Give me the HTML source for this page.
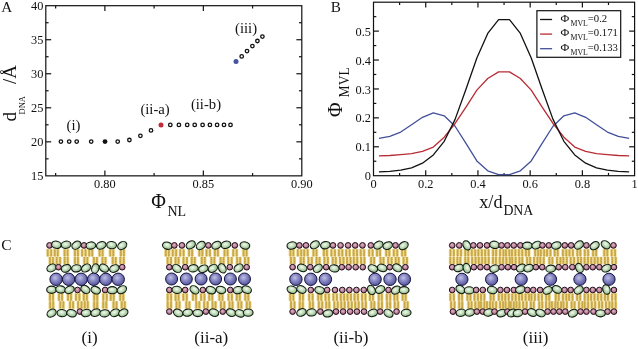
<!DOCTYPE html>
<html><head><meta charset="utf-8"><title>Figure</title>
<style>html,body{margin:0;padding:0;background:#fff;}svg{display:block;will-change:transform;opacity:0.999}text{font-family:"Liberation Serif",serif;}</style>
</head><body>
<svg width="638" height="349" viewBox="0 0 638 349">
<rect width="638" height="349" fill="#fff"/>
<rect x="45.80" y="5.70" width="256.00" height="170.15" fill="none" stroke="#111" stroke-width="1.2"/>
<line x1="55.65" y1="175.85" x2="55.65" y2="173.05" stroke="#111" stroke-width="1.2"/>
<line x1="55.65" y1="5.70" x2="55.65" y2="8.50" stroke="#111" stroke-width="1.2"/>
<line x1="104.88" y1="175.85" x2="104.88" y2="170.45" stroke="#111" stroke-width="1.2"/>
<line x1="104.88" y1="5.70" x2="104.88" y2="11.10" stroke="#111" stroke-width="1.2"/>
<line x1="154.11" y1="175.85" x2="154.11" y2="173.05" stroke="#111" stroke-width="1.2"/>
<line x1="154.11" y1="5.70" x2="154.11" y2="8.50" stroke="#111" stroke-width="1.2"/>
<line x1="203.34" y1="175.85" x2="203.34" y2="170.45" stroke="#111" stroke-width="1.2"/>
<line x1="203.34" y1="5.70" x2="203.34" y2="11.10" stroke="#111" stroke-width="1.2"/>
<line x1="252.57" y1="175.85" x2="252.57" y2="173.05" stroke="#111" stroke-width="1.2"/>
<line x1="252.57" y1="5.70" x2="252.57" y2="8.50" stroke="#111" stroke-width="1.2"/>
<line x1="45.80" y1="158.83" x2="48.60" y2="158.83" stroke="#111" stroke-width="1.2"/>
<line x1="301.80" y1="158.83" x2="299.00" y2="158.83" stroke="#111" stroke-width="1.2"/>
<line x1="45.80" y1="141.82" x2="51.20" y2="141.82" stroke="#111" stroke-width="1.2"/>
<line x1="301.80" y1="141.82" x2="296.40" y2="141.82" stroke="#111" stroke-width="1.2"/>
<line x1="45.80" y1="124.80" x2="48.60" y2="124.80" stroke="#111" stroke-width="1.2"/>
<line x1="301.80" y1="124.80" x2="299.00" y2="124.80" stroke="#111" stroke-width="1.2"/>
<line x1="45.80" y1="107.79" x2="51.20" y2="107.79" stroke="#111" stroke-width="1.2"/>
<line x1="301.80" y1="107.79" x2="296.40" y2="107.79" stroke="#111" stroke-width="1.2"/>
<line x1="45.80" y1="90.77" x2="48.60" y2="90.77" stroke="#111" stroke-width="1.2"/>
<line x1="301.80" y1="90.77" x2="299.00" y2="90.77" stroke="#111" stroke-width="1.2"/>
<line x1="45.80" y1="73.76" x2="51.20" y2="73.76" stroke="#111" stroke-width="1.2"/>
<line x1="301.80" y1="73.76" x2="296.40" y2="73.76" stroke="#111" stroke-width="1.2"/>
<line x1="45.80" y1="56.74" x2="48.60" y2="56.74" stroke="#111" stroke-width="1.2"/>
<line x1="301.80" y1="56.74" x2="299.00" y2="56.74" stroke="#111" stroke-width="1.2"/>
<line x1="45.80" y1="39.73" x2="51.20" y2="39.73" stroke="#111" stroke-width="1.2"/>
<line x1="301.80" y1="39.73" x2="296.40" y2="39.73" stroke="#111" stroke-width="1.2"/>
<line x1="45.80" y1="22.72" x2="48.60" y2="22.72" stroke="#111" stroke-width="1.2"/>
<line x1="301.80" y1="22.72" x2="299.00" y2="22.72" stroke="#111" stroke-width="1.2"/>
<text transform="translate(43.40,180.45) scale(0.93,1)" font-family="Liberation Serif, serif" font-size="13.3" text-anchor="end" fill="#111">15</text>
<text transform="translate(43.40,146.42) scale(0.93,1)" font-family="Liberation Serif, serif" font-size="13.3" text-anchor="end" fill="#111">20</text>
<text transform="translate(43.40,112.39) scale(0.93,1)" font-family="Liberation Serif, serif" font-size="13.3" text-anchor="end" fill="#111">25</text>
<text transform="translate(43.40,78.36) scale(0.93,1)" font-family="Liberation Serif, serif" font-size="13.3" text-anchor="end" fill="#111">30</text>
<text transform="translate(43.40,44.33) scale(0.93,1)" font-family="Liberation Serif, serif" font-size="13.3" text-anchor="end" fill="#111">35</text>
<text transform="translate(43.40,10.30) scale(0.93,1)" font-family="Liberation Serif, serif" font-size="13.3" text-anchor="end" fill="#111">40</text>
<text transform="translate(104.88,188.00) scale(0.93,1)" font-family="Liberation Serif, serif" font-size="13.3" text-anchor="middle" fill="#111">0.80</text>
<text transform="translate(203.34,188.00) scale(0.93,1)" font-family="Liberation Serif, serif" font-size="13.3" text-anchor="middle" fill="#111">0.85</text>
<text transform="translate(301.80,188.00) scale(0.93,1)" font-family="Liberation Serif, serif" font-size="13.3" text-anchor="middle" fill="#111">0.90</text>
<circle cx="60.9" cy="141.6" r="1.75" fill="#fff" stroke="#111" stroke-width="1.3"/>
<circle cx="69.2" cy="141.6" r="1.75" fill="#fff" stroke="#111" stroke-width="1.3"/>
<circle cx="76.7" cy="141.6" r="1.75" fill="#fff" stroke="#111" stroke-width="1.3"/>
<circle cx="91.2" cy="141.6" r="1.75" fill="#fff" stroke="#111" stroke-width="1.3"/>
<circle cx="117.7" cy="141.6" r="1.75" fill="#fff" stroke="#111" stroke-width="1.3"/>
<circle cx="129.4" cy="140.0" r="1.75" fill="#fff" stroke="#111" stroke-width="1.3"/>
<circle cx="140.4" cy="135.8" r="1.75" fill="#fff" stroke="#111" stroke-width="1.3"/>
<circle cx="151" cy="130.4" r="1.75" fill="#fff" stroke="#111" stroke-width="1.3"/>
<circle cx="170.3" cy="124.9" r="1.75" fill="#fff" stroke="#111" stroke-width="1.3"/>
<circle cx="178.9" cy="124.9" r="1.75" fill="#fff" stroke="#111" stroke-width="1.3"/>
<circle cx="187.2" cy="124.9" r="1.75" fill="#fff" stroke="#111" stroke-width="1.3"/>
<circle cx="194.7" cy="124.9" r="1.75" fill="#fff" stroke="#111" stroke-width="1.3"/>
<circle cx="202.6" cy="124.9" r="1.75" fill="#fff" stroke="#111" stroke-width="1.3"/>
<circle cx="209.9" cy="124.9" r="1.75" fill="#fff" stroke="#111" stroke-width="1.3"/>
<circle cx="217.1" cy="124.9" r="1.75" fill="#fff" stroke="#111" stroke-width="1.3"/>
<circle cx="224" cy="124.9" r="1.75" fill="#fff" stroke="#111" stroke-width="1.3"/>
<circle cx="230.5" cy="124.9" r="1.75" fill="#fff" stroke="#111" stroke-width="1.3"/>
<circle cx="241.7" cy="56.4" r="1.75" fill="#fff" stroke="#111" stroke-width="1.3"/>
<circle cx="247" cy="51.1" r="1.75" fill="#fff" stroke="#111" stroke-width="1.3"/>
<circle cx="252.4" cy="46.1" r="1.75" fill="#fff" stroke="#111" stroke-width="1.3"/>
<circle cx="257.4" cy="41.0" r="1.75" fill="#fff" stroke="#111" stroke-width="1.3"/>
<circle cx="262.4" cy="36.6" r="1.75" fill="#fff" stroke="#111" stroke-width="1.3"/>
<circle cx="105" cy="141.6" r="2.4" fill="#111"/>
<circle cx="161" cy="125.0" r="2.5" fill="#c22c3a"/>
<circle cx="236" cy="61.5" r="2.5" fill="#46549e"/>
<text x="66.5" y="129.6" font-family="Liberation Serif, serif" font-size="14.7" fill="#111">(i)</text>
<text x="140.4" y="113.7" font-family="Liberation Serif, serif" font-size="14.7" fill="#111">(ii-a)</text>
<text x="190.9" y="109" font-family="Liberation Serif, serif" font-size="14.7" fill="#111">(ii-b)</text>
<text x="235" y="32.8" font-family="Liberation Serif, serif" font-size="14.7" fill="#111">(iii)</text>
<text x="1.3" y="11.9" font-family="Liberation Serif, serif" font-size="15.2" fill="#111">A</text>
<text x="330.8" y="11.9" font-family="Liberation Serif, serif" font-size="15.2" fill="#111">B</text>
<text x="1.3" y="250.2" font-family="Liberation Serif, serif" font-size="15.5" fill="#111">C</text>
<g transform="translate(16.1,121.6) rotate(-90)"><text x="0" y="0" font-family="Liberation Serif, serif" font-size="19" fill="#111">d</text><text x="7.2" y="9" font-family="Liberation Serif, serif" font-size="8.5" fill="#111">DNA</text><text x="37.5" y="0" font-family="Liberation Serif, serif" font-size="19" fill="#111">/Å</text></g>
<text x="151.3" y="208" font-family="Liberation Serif, serif" font-size="20" fill="#111">Φ</text>
<text x="167.4" y="216.1" font-family="Liberation Serif, serif" font-size="14" fill="#111">NL</text>
<rect x="373.50" y="2.20" width="261.10" height="173.50" fill="none" stroke="#111" stroke-width="1.2"/>
<line x1="399.61" y1="175.70" x2="399.61" y2="172.90" stroke="#111" stroke-width="1.2"/>
<line x1="399.61" y1="2.20" x2="399.61" y2="5.00" stroke="#111" stroke-width="1.2"/>
<line x1="425.72" y1="175.70" x2="425.72" y2="170.30" stroke="#111" stroke-width="1.2"/>
<line x1="425.72" y1="2.20" x2="425.72" y2="7.60" stroke="#111" stroke-width="1.2"/>
<line x1="451.83" y1="175.70" x2="451.83" y2="172.90" stroke="#111" stroke-width="1.2"/>
<line x1="451.83" y1="2.20" x2="451.83" y2="5.00" stroke="#111" stroke-width="1.2"/>
<line x1="477.94" y1="175.70" x2="477.94" y2="170.30" stroke="#111" stroke-width="1.2"/>
<line x1="477.94" y1="2.20" x2="477.94" y2="7.60" stroke="#111" stroke-width="1.2"/>
<line x1="504.05" y1="175.70" x2="504.05" y2="172.90" stroke="#111" stroke-width="1.2"/>
<line x1="504.05" y1="2.20" x2="504.05" y2="5.00" stroke="#111" stroke-width="1.2"/>
<line x1="530.16" y1="175.70" x2="530.16" y2="170.30" stroke="#111" stroke-width="1.2"/>
<line x1="530.16" y1="2.20" x2="530.16" y2="7.60" stroke="#111" stroke-width="1.2"/>
<line x1="556.27" y1="175.70" x2="556.27" y2="172.90" stroke="#111" stroke-width="1.2"/>
<line x1="556.27" y1="2.20" x2="556.27" y2="5.00" stroke="#111" stroke-width="1.2"/>
<line x1="582.38" y1="175.70" x2="582.38" y2="170.30" stroke="#111" stroke-width="1.2"/>
<line x1="582.38" y1="2.20" x2="582.38" y2="7.60" stroke="#111" stroke-width="1.2"/>
<line x1="608.49" y1="175.70" x2="608.49" y2="172.90" stroke="#111" stroke-width="1.2"/>
<line x1="608.49" y1="2.20" x2="608.49" y2="5.00" stroke="#111" stroke-width="1.2"/>
<line x1="373.50" y1="161.24" x2="376.30" y2="161.24" stroke="#111" stroke-width="1.2"/>
<line x1="634.60" y1="161.24" x2="631.80" y2="161.24" stroke="#111" stroke-width="1.2"/>
<line x1="373.50" y1="146.78" x2="378.90" y2="146.78" stroke="#111" stroke-width="1.2"/>
<line x1="634.60" y1="146.78" x2="629.20" y2="146.78" stroke="#111" stroke-width="1.2"/>
<line x1="373.50" y1="132.32" x2="376.30" y2="132.32" stroke="#111" stroke-width="1.2"/>
<line x1="634.60" y1="132.32" x2="631.80" y2="132.32" stroke="#111" stroke-width="1.2"/>
<line x1="373.50" y1="117.87" x2="378.90" y2="117.87" stroke="#111" stroke-width="1.2"/>
<line x1="634.60" y1="117.87" x2="629.20" y2="117.87" stroke="#111" stroke-width="1.2"/>
<line x1="373.50" y1="103.41" x2="376.30" y2="103.41" stroke="#111" stroke-width="1.2"/>
<line x1="634.60" y1="103.41" x2="631.80" y2="103.41" stroke="#111" stroke-width="1.2"/>
<line x1="373.50" y1="88.95" x2="378.90" y2="88.95" stroke="#111" stroke-width="1.2"/>
<line x1="634.60" y1="88.95" x2="629.20" y2="88.95" stroke="#111" stroke-width="1.2"/>
<line x1="373.50" y1="74.49" x2="376.30" y2="74.49" stroke="#111" stroke-width="1.2"/>
<line x1="634.60" y1="74.49" x2="631.80" y2="74.49" stroke="#111" stroke-width="1.2"/>
<line x1="373.50" y1="60.03" x2="378.90" y2="60.03" stroke="#111" stroke-width="1.2"/>
<line x1="634.60" y1="60.03" x2="629.20" y2="60.03" stroke="#111" stroke-width="1.2"/>
<line x1="373.50" y1="45.57" x2="376.30" y2="45.57" stroke="#111" stroke-width="1.2"/>
<line x1="634.60" y1="45.57" x2="631.80" y2="45.57" stroke="#111" stroke-width="1.2"/>
<line x1="373.50" y1="31.12" x2="378.90" y2="31.12" stroke="#111" stroke-width="1.2"/>
<line x1="634.60" y1="31.12" x2="629.20" y2="31.12" stroke="#111" stroke-width="1.2"/>
<line x1="373.50" y1="16.66" x2="376.30" y2="16.66" stroke="#111" stroke-width="1.2"/>
<line x1="634.60" y1="16.66" x2="631.80" y2="16.66" stroke="#111" stroke-width="1.2"/>
<text transform="translate(371.00,180.30) scale(0.93,1)" font-family="Liberation Serif, serif" font-size="13.3" text-anchor="end" fill="#111">0</text>
<text transform="translate(371.00,151.38) scale(0.93,1)" font-family="Liberation Serif, serif" font-size="13.3" text-anchor="end" fill="#111">0.1</text>
<text transform="translate(371.00,122.47) scale(0.93,1)" font-family="Liberation Serif, serif" font-size="13.3" text-anchor="end" fill="#111">0.2</text>
<text transform="translate(371.00,93.55) scale(0.93,1)" font-family="Liberation Serif, serif" font-size="13.3" text-anchor="end" fill="#111">0.3</text>
<text transform="translate(371.00,64.63) scale(0.93,1)" font-family="Liberation Serif, serif" font-size="13.3" text-anchor="end" fill="#111">0.4</text>
<text transform="translate(371.00,35.72) scale(0.93,1)" font-family="Liberation Serif, serif" font-size="13.3" text-anchor="end" fill="#111">0.5</text>
<text transform="translate(373.50,188.00) scale(0.93,1)" font-family="Liberation Serif, serif" font-size="13.3" text-anchor="middle" fill="#111">0</text>
<text transform="translate(425.72,188.00) scale(0.93,1)" font-family="Liberation Serif, serif" font-size="13.3" text-anchor="middle" fill="#111">0.2</text>
<text transform="translate(477.94,188.00) scale(0.93,1)" font-family="Liberation Serif, serif" font-size="13.3" text-anchor="middle" fill="#111">0.4</text>
<text transform="translate(530.16,188.00) scale(0.93,1)" font-family="Liberation Serif, serif" font-size="13.3" text-anchor="middle" fill="#111">0.6</text>
<text transform="translate(582.38,188.00) scale(0.93,1)" font-family="Liberation Serif, serif" font-size="13.3" text-anchor="middle" fill="#111">0.8</text>
<text transform="translate(634.60,188.00) scale(0.93,1)" font-family="Liberation Serif, serif" font-size="13.3" text-anchor="middle" fill="#111">1</text>
<polyline points="378.94,138.28 389.82,136.37 400.70,132.04 411.58,124.81 422.46,117.29 433.34,112.81 444.21,115.84 455.09,126.25 465.97,143.46 476.85,160.95 487.73,170.84 498.61,174.66 509.49,174.66 520.37,170.84 531.25,160.95 542.13,143.46 553.01,126.25 563.89,115.84 574.76,112.81 585.64,117.29 596.52,124.81 607.40,132.04 618.28,136.37 629.16,138.28" fill="none" stroke="#42509a" stroke-width="1.3" stroke-linejoin="round"/>
<polyline points="378.94,155.78 389.82,155.52 400.70,154.68 411.58,153.61 422.46,151.41 433.34,147.07 444.21,137.18 455.09,123.48 465.97,107.08 476.85,90.11 487.73,78.54 498.61,71.89 509.49,71.89 520.37,78.54 531.25,90.11 542.13,107.08 553.01,123.48 563.89,137.18 574.76,147.07 585.64,151.41 596.52,153.61 607.40,154.68 618.28,155.52 629.16,155.78" fill="none" stroke="#b82c34" stroke-width="1.3" stroke-linejoin="round"/>
<polyline points="378.94,171.94 389.82,171.39 400.70,170.03 411.58,167.83 422.46,163.18 433.34,154.97 444.21,141.29 455.09,119.37 465.97,89.27 476.85,58.01 487.73,33.43 498.61,19.72 509.49,19.72 520.37,33.43 531.25,58.01 542.13,89.27 553.01,119.37 563.89,141.29 574.76,154.97 585.64,163.18 596.52,167.83 607.40,170.03 618.28,171.39 629.16,171.94" fill="none" stroke="#111" stroke-width="1.3" stroke-linejoin="round"/>
<rect x="536.9" y="10.7" width="83.8" height="46.6" fill="#fff" stroke="#111" stroke-width="1.2"/>
<line x1="540.1" y1="19.50" x2="552.1" y2="19.50" stroke="#111" stroke-width="1.3"/>
<text transform="translate(560.40,21.60) scale(1.06,1)" font-family="Liberation Serif, serif" font-size="11.3" text-anchor="start" fill="#111">Φ</text>
<text x="570.5" y="25.70" font-family="Liberation Serif, serif" font-size="7.8" fill="#111">MVL</text>
<text x="587.8" y="21.60" font-family="Liberation Serif, serif" font-size="10.7" fill="#111">=0.2</text>
<line x1="540.1" y1="34.10" x2="552.1" y2="34.10" stroke="#b82c34" stroke-width="1.3"/>
<text transform="translate(560.40,36.20) scale(1.06,1)" font-family="Liberation Serif, serif" font-size="11.3" text-anchor="start" fill="#111">Φ</text>
<text x="570.5" y="40.30" font-family="Liberation Serif, serif" font-size="7.8" fill="#111">MVL</text>
<text x="587.8" y="36.20" font-family="Liberation Serif, serif" font-size="10.7" fill="#111">=0.171</text>
<line x1="540.1" y1="48.70" x2="552.1" y2="48.70" stroke="#42509a" stroke-width="1.3"/>
<text transform="translate(560.40,50.80) scale(1.06,1)" font-family="Liberation Serif, serif" font-size="11.3" text-anchor="start" fill="#111">Φ</text>
<text x="570.5" y="54.90" font-family="Liberation Serif, serif" font-size="7.8" fill="#111">MVL</text>
<text x="587.8" y="50.80" font-family="Liberation Serif, serif" font-size="10.7" fill="#111">=0.133</text>
<g transform="translate(342.1,117) rotate(-90)"><text x="0" y="0" font-family="Liberation Serif, serif" font-size="20" fill="#111">Φ</text><text x="19.6" y="6.9" font-family="Liberation Serif, serif" font-size="13.6" fill="#111">MVL</text></g>
<text x="479.2" y="208.1" font-family="Liberation Serif, serif" font-size="18.3" fill="#111">x/d</text>
<text x="503.4" y="215.3" font-family="Liberation Serif, serif" font-size="13.8" fill="#111">DNA</text>
<defs>
<radialGradient id="gG" cx="45%" cy="40%" r="65%"><stop offset="0" stop-color="#f4faf2"/><stop offset="0.35" stop-color="#cfe4c8"/><stop offset="0.7" stop-color="#a6c89e"/><stop offset="1" stop-color="#6c9868"/></radialGradient>
<radialGradient id="gP" cx="45%" cy="40%" r="65%"><stop offset="0" stop-color="#e0b8c8"/><stop offset="0.55" stop-color="#ba8098"/><stop offset="1" stop-color="#8c546c"/></radialGradient>
<radialGradient id="gS" cx="42%" cy="38%" r="65%"><stop offset="0" stop-color="#c0c0e6"/><stop offset="0.5" stop-color="#8282c0"/><stop offset="1" stop-color="#505098"/></radialGradient>
</defs>
<g stroke="#f0df9c" stroke-width="6.6" stroke-linecap="butt">
<path d="M49.45 248.70V256.45"/>
<path d="M56.27 248.70V256.45"/>
<path d="M66.08 248.70V256.45"/>
<path d="M76.42 248.70V256.45"/>
<path d="M83.83 248.70V256.45"/>
<path d="M90.73 248.70V256.45"/>
<path d="M101.09 248.70V256.45"/>
<path d="M111.77 248.70V256.45"/>
<path d="M122.40 248.70V256.45"/>
<path d="M51.50 264.70V256.95"/>
<path d="M58.41 264.70V256.95"/>
<path d="M66.20 264.70V256.95"/>
<path d="M76.47 264.70V256.95"/>
<path d="M85.89 264.70V256.95"/>
<path d="M95.38 264.70V256.95"/>
<path d="M103.99 264.70V256.95"/>
<path d="M114.24 264.70V256.95"/>
<path d="M122.04 264.70V256.95"/>
<path d="M51.51 292.90V300.80"/>
<path d="M60.53 292.90V300.80"/>
<path d="M69.52 292.90V300.80"/>
<path d="M77.69 292.90V300.80"/>
<path d="M85.35 292.90V300.80"/>
<path d="M95.75 292.90V300.80"/>
<path d="M105.04 292.90V300.80"/>
<path d="M112.22 292.90V300.80"/>
<path d="M121.76 292.90V300.80"/>
<path d="M51.67 309.20V301.30"/>
<path d="M61.85 309.20V301.30"/>
<path d="M71.56 309.20V301.30"/>
<path d="M79.80 309.20V301.30"/>
<path d="M86.25 309.20V301.30"/>
<path d="M95.72 309.20V301.30"/>
<path d="M104.79 309.20V301.30"/>
<path d="M115.03 309.20V301.30"/>
<path d="M123.22 309.20V301.30"/>
<path d="M167.34 248.70V256.45"/>
<path d="M174.45 248.70V256.45"/>
<path d="M181.88 248.70V256.45"/>
<path d="M190.64 248.70V256.45"/>
<path d="M200.88 248.70V256.45"/>
<path d="M208.25 248.70V256.45"/>
<path d="M216.35 248.70V256.45"/>
<path d="M226.05 248.70V256.45"/>
<path d="M234.97 248.70V256.45"/>
<path d="M245.08 248.70V256.45"/>
<path d="M169.32 264.70V256.95"/>
<path d="M177.04 264.70V256.95"/>
<path d="M185.23 264.70V256.95"/>
<path d="M193.22 264.70V256.95"/>
<path d="M203.30 264.70V256.95"/>
<path d="M212.89 264.70V256.95"/>
<path d="M222.07 264.70V256.95"/>
<path d="M229.97 264.70V256.95"/>
<path d="M238.65 264.70V256.95"/>
<path d="M246.62 264.70V256.95"/>
<path d="M169.39 292.90V300.80"/>
<path d="M177.07 292.90V300.80"/>
<path d="M185.05 292.90V300.80"/>
<path d="M194.52 292.90V300.80"/>
<path d="M202.76 292.90V300.80"/>
<path d="M210.75 292.90V300.80"/>
<path d="M220.96 292.90V300.80"/>
<path d="M230.17 292.90V300.80"/>
<path d="M238.28 292.90V300.80"/>
<path d="M246.83 292.90V300.80"/>
<path d="M169.39 309.20V301.30"/>
<path d="M177.99 309.20V301.30"/>
<path d="M187.89 309.20V301.30"/>
<path d="M197.82 309.20V301.30"/>
<path d="M205.90 309.20V301.30"/>
<path d="M214.03 309.20V301.30"/>
<path d="M222.63 309.20V301.30"/>
<path d="M231.01 309.20V301.30"/>
<path d="M239.86 309.20V301.30"/>
<path d="M248.29 309.20V301.30"/>
<path d="M291.90 248.70V256.45"/>
<path d="M299.51 248.70V256.45"/>
<path d="M305.92 248.70V256.45"/>
<path d="M315.00 248.70V256.45"/>
<path d="M325.40 248.70V256.45"/>
<path d="M333.17 248.70V256.45"/>
<path d="M340.59 248.70V256.45"/>
<path d="M347.91 248.70V256.45"/>
<path d="M355.34 248.70V256.45"/>
<path d="M362.43 248.70V256.45"/>
<path d="M370.87 248.70V256.45"/>
<path d="M378.52 248.70V256.45"/>
<path d="M387.80 248.70V256.45"/>
<path d="M395.51 248.70V256.45"/>
<path d="M403.67 248.70V256.45"/>
<path d="M292.70 264.70V256.95"/>
<path d="M302.19 264.70V256.95"/>
<path d="M310.14 264.70V256.95"/>
<path d="M318.04 264.70V256.95"/>
<path d="M326.15 264.70V256.95"/>
<path d="M334.30 264.70V256.95"/>
<path d="M341.80 264.70V256.95"/>
<path d="M348.79 264.70V256.95"/>
<path d="M355.54 264.70V256.95"/>
<path d="M362.76 264.70V256.95"/>
<path d="M372.64 264.70V256.95"/>
<path d="M382.01 264.70V256.95"/>
<path d="M389.93 264.70V256.95"/>
<path d="M397.18 264.70V256.95"/>
<path d="M405.26 264.70V256.95"/>
<path d="M291.86 292.90V300.80"/>
<path d="M301.46 292.90V300.80"/>
<path d="M310.87 292.90V300.80"/>
<path d="M319.77 292.90V300.80"/>
<path d="M327.18 292.90V300.80"/>
<path d="M335.13 292.90V300.80"/>
<path d="M342.46 292.90V300.80"/>
<path d="M349.23 292.90V300.80"/>
<path d="M356.30 292.90V300.80"/>
<path d="M363.76 292.90V300.80"/>
<path d="M371.47 292.90V300.80"/>
<path d="M380.26 292.90V300.80"/>
<path d="M388.52 292.90V300.80"/>
<path d="M395.89 292.90V300.80"/>
<path d="M404.13 292.90V300.80"/>
<path d="M292.77 309.20V301.30"/>
<path d="M301.27 309.20V301.30"/>
<path d="M311.37 309.20V301.30"/>
<path d="M320.52 309.20V301.30"/>
<path d="M327.76 309.20V301.30"/>
<path d="M336.05 309.20V301.30"/>
<path d="M342.95 309.20V301.30"/>
<path d="M350.04 309.20V301.30"/>
<path d="M356.95 309.20V301.30"/>
<path d="M364.13 309.20V301.30"/>
<path d="M372.84 309.20V301.30"/>
<path d="M380.30 309.20V301.30"/>
<path d="M388.65 309.20V301.30"/>
<path d="M396.43 309.20V301.30"/>
<path d="M406.11 309.20V301.30"/>
<path d="M452.15 248.70V256.45"/>
<path d="M459.34 248.70V256.45"/>
<path d="M466.76 248.70V256.45"/>
<path d="M473.48 248.70V256.45"/>
<path d="M480.11 248.70V256.45"/>
<path d="M486.86 248.70V256.45"/>
<path d="M494.60 248.70V256.45"/>
<path d="M501.72 248.70V256.45"/>
<path d="M507.63 248.70V256.45"/>
<path d="M513.67 248.70V256.45"/>
<path d="M520.54 248.70V256.45"/>
<path d="M527.37 248.70V256.45"/>
<path d="M536.72 248.70V256.45"/>
<path d="M542.47 248.70V256.45"/>
<path d="M548.75 248.70V256.45"/>
<path d="M556.21 248.70V256.45"/>
<path d="M564.61 248.70V256.45"/>
<path d="M571.17 248.70V256.45"/>
<path d="M578.88 248.70V256.45"/>
<path d="M586.48 248.70V256.45"/>
<path d="M594.67 248.70V256.45"/>
<path d="M605.83 248.70V256.45"/>
<path d="M613.38 248.70V256.45"/>
<path d="M452.04 264.70V256.95"/>
<path d="M458.91 264.70V256.95"/>
<path d="M466.76 264.70V256.95"/>
<path d="M473.85 264.70V256.95"/>
<path d="M480.43 264.70V256.95"/>
<path d="M487.00 264.70V256.95"/>
<path d="M494.45 264.70V256.95"/>
<path d="M501.44 264.70V256.95"/>
<path d="M508.07 264.70V256.95"/>
<path d="M513.93 264.70V256.95"/>
<path d="M520.87 264.70V256.95"/>
<path d="M528.63 264.70V256.95"/>
<path d="M535.73 264.70V256.95"/>
<path d="M542.03 264.70V256.95"/>
<path d="M550.89 264.70V256.95"/>
<path d="M558.73 264.70V256.95"/>
<path d="M565.09 264.70V256.95"/>
<path d="M572.41 264.70V256.95"/>
<path d="M579.55 264.70V256.95"/>
<path d="M586.30 264.70V256.95"/>
<path d="M592.95 264.70V256.95"/>
<path d="M599.41 264.70V256.95"/>
<path d="M606.43 264.70V256.95"/>
<path d="M614.01 264.70V256.95"/>
<path d="M452.13 292.90V300.80"/>
<path d="M460.57 292.90V300.80"/>
<path d="M468.95 292.90V300.80"/>
<path d="M476.20 292.90V300.80"/>
<path d="M482.67 292.90V300.80"/>
<path d="M492.15 292.90V300.80"/>
<path d="M500.45 292.90V300.80"/>
<path d="M506.99 292.90V300.80"/>
<path d="M513.94 292.90V300.80"/>
<path d="M520.55 292.90V300.80"/>
<path d="M527.30 292.90V300.80"/>
<path d="M533.17 292.90V300.80"/>
<path d="M540.26 292.90V300.80"/>
<path d="M547.73 292.90V300.80"/>
<path d="M557.23 292.90V300.80"/>
<path d="M564.61 292.90V300.80"/>
<path d="M570.83 292.90V300.80"/>
<path d="M578.64 292.90V300.80"/>
<path d="M586.38 292.90V300.80"/>
<path d="M592.78 292.90V300.80"/>
<path d="M599.55 292.90V300.80"/>
<path d="M606.46 292.90V300.80"/>
<path d="M613.81 292.90V300.80"/>
<path d="M452.84 309.20V301.30"/>
<path d="M460.72 309.20V301.30"/>
<path d="M470.04 309.20V301.30"/>
<path d="M477.05 309.20V301.30"/>
<path d="M482.66 309.20V301.30"/>
<path d="M488.52 309.20V301.30"/>
<path d="M494.43 309.20V301.30"/>
<path d="M501.63 309.20V301.30"/>
<path d="M507.28 309.20V301.30"/>
<path d="M512.27 309.20V301.30"/>
<path d="M517.97 309.20V301.30"/>
<path d="M524.90 309.20V301.30"/>
<path d="M532.29 309.20V301.30"/>
<path d="M540.74 309.20V301.30"/>
<path d="M547.74 309.20V301.30"/>
<path d="M553.60 309.20V301.30"/>
<path d="M559.39 309.20V301.30"/>
<path d="M565.18 309.20V301.30"/>
<path d="M573.08 309.20V301.30"/>
<path d="M580.64 309.20V301.30"/>
<path d="M586.44 309.20V301.30"/>
<path d="M593.46 309.20V301.30"/>
<path d="M600.62 309.20V301.30"/>
<path d="M607.69 309.20V301.30"/>
<path d="M613.97 309.20V301.30"/>
</g>
<g fill="none" stroke="#d0b052" stroke-width="1.9">
<path d="M47.73 249.60V256.45"/>
<path d="M51.17 249.60V256.45"/>
<path d="M54.77 249.60V256.45"/>
<path d="M57.77 249.60V256.45"/>
<path d="M64.58 249.60V256.45"/>
<path d="M67.58 249.60V256.45"/>
<path d="M74.92 249.60V256.45"/>
<path d="M77.92 249.60V256.45"/>
<path d="M82.11 249.60V256.45"/>
<path d="M85.55 249.60V256.45"/>
<path d="M89.23 249.60V256.45"/>
<path d="M92.23 249.60V256.45"/>
<path d="M99.59 249.60V256.45"/>
<path d="M102.59 249.60V256.45"/>
<path d="M110.27 249.60V256.45"/>
<path d="M113.27 249.60V256.45"/>
<path d="M120.90 249.60V256.45"/>
<path d="M123.90 249.60V256.45"/>
<path d="M50.00 263.80V256.95"/>
<path d="M53.00 263.80V256.95"/>
<path d="M56.69 263.80V256.95"/>
<path d="M60.13 263.80V256.95"/>
<path d="M64.70 263.80V256.95"/>
<path d="M67.70 263.80V256.95"/>
<path d="M74.97 263.80V256.95"/>
<path d="M77.97 263.80V256.95"/>
<path d="M84.39 263.80V256.95"/>
<path d="M87.39 263.80V256.95"/>
<path d="M93.88 263.80V256.95"/>
<path d="M96.88 263.80V256.95"/>
<path d="M102.49 263.80V256.95"/>
<path d="M105.49 263.80V256.95"/>
<path d="M112.74 263.80V256.95"/>
<path d="M115.74 263.80V256.95"/>
<path d="M120.32 263.80V256.95"/>
<path d="M123.76 263.80V256.95"/>
<path d="M50.01 293.80V300.80"/>
<path d="M53.01 293.80V300.80"/>
<path d="M59.03 293.80V300.80"/>
<path d="M62.03 293.80V300.80"/>
<path d="M68.02 293.80V300.80"/>
<path d="M71.02 293.80V300.80"/>
<path d="M75.97 293.80V300.80"/>
<path d="M79.41 293.80V300.80"/>
<path d="M83.85 293.80V300.80"/>
<path d="M86.85 293.80V300.80"/>
<path d="M94.25 293.80V300.80"/>
<path d="M97.25 293.80V300.80"/>
<path d="M103.32 293.80V300.80"/>
<path d="M106.76 293.80V300.80"/>
<path d="M110.72 293.80V300.80"/>
<path d="M113.72 293.80V300.80"/>
<path d="M120.26 293.80V300.80"/>
<path d="M123.26 293.80V300.80"/>
<path d="M50.17 308.30V301.30"/>
<path d="M53.17 308.30V301.30"/>
<path d="M60.35 308.30V301.30"/>
<path d="M63.35 308.30V301.30"/>
<path d="M70.06 308.30V301.30"/>
<path d="M73.06 308.30V301.30"/>
<path d="M78.08 308.30V301.30"/>
<path d="M81.52 308.30V301.30"/>
<path d="M84.75 308.30V301.30"/>
<path d="M87.75 308.30V301.30"/>
<path d="M94.22 308.30V301.30"/>
<path d="M97.22 308.30V301.30"/>
<path d="M103.29 308.30V301.30"/>
<path d="M106.29 308.30V301.30"/>
<path d="M113.53 308.30V301.30"/>
<path d="M116.53 308.30V301.30"/>
<path d="M121.72 308.30V301.30"/>
<path d="M124.72 308.30V301.30"/>
<path d="M165.84 249.60V256.45"/>
<path d="M168.84 249.60V256.45"/>
<path d="M172.73 249.60V256.45"/>
<path d="M176.17 249.60V256.45"/>
<path d="M180.16 249.60V256.45"/>
<path d="M183.60 249.60V256.45"/>
<path d="M189.14 249.60V256.45"/>
<path d="M192.14 249.60V256.45"/>
<path d="M199.38 249.60V256.45"/>
<path d="M202.38 249.60V256.45"/>
<path d="M206.53 249.60V256.45"/>
<path d="M209.97 249.60V256.45"/>
<path d="M214.85 249.60V256.45"/>
<path d="M217.85 249.60V256.45"/>
<path d="M224.55 249.60V256.45"/>
<path d="M227.55 249.60V256.45"/>
<path d="M233.25 249.60V256.45"/>
<path d="M236.69 249.60V256.45"/>
<path d="M243.58 249.60V256.45"/>
<path d="M246.58 249.60V256.45"/>
<path d="M167.60 263.80V256.95"/>
<path d="M171.04 263.80V256.95"/>
<path d="M175.54 263.80V256.95"/>
<path d="M178.54 263.80V256.95"/>
<path d="M183.51 263.80V256.95"/>
<path d="M186.95 263.80V256.95"/>
<path d="M191.72 263.80V256.95"/>
<path d="M194.72 263.80V256.95"/>
<path d="M201.80 263.80V256.95"/>
<path d="M204.80 263.80V256.95"/>
<path d="M211.39 263.80V256.95"/>
<path d="M214.39 263.80V256.95"/>
<path d="M220.57 263.80V256.95"/>
<path d="M223.57 263.80V256.95"/>
<path d="M228.25 263.80V256.95"/>
<path d="M231.69 263.80V256.95"/>
<path d="M237.15 263.80V256.95"/>
<path d="M240.15 263.80V256.95"/>
<path d="M244.90 263.80V256.95"/>
<path d="M248.34 263.80V256.95"/>
<path d="M167.67 293.80V300.80"/>
<path d="M171.11 293.80V300.80"/>
<path d="M175.57 293.80V300.80"/>
<path d="M178.57 293.80V300.80"/>
<path d="M183.33 293.80V300.80"/>
<path d="M186.77 293.80V300.80"/>
<path d="M193.02 293.80V300.80"/>
<path d="M196.02 293.80V300.80"/>
<path d="M201.04 293.80V300.80"/>
<path d="M204.48 293.80V300.80"/>
<path d="M209.25 293.80V300.80"/>
<path d="M212.25 293.80V300.80"/>
<path d="M219.46 293.80V300.80"/>
<path d="M222.46 293.80V300.80"/>
<path d="M228.45 293.80V300.80"/>
<path d="M231.89 293.80V300.80"/>
<path d="M236.78 293.80V300.80"/>
<path d="M239.78 293.80V300.80"/>
<path d="M245.33 293.80V300.80"/>
<path d="M248.33 293.80V300.80"/>
<path d="M167.67 308.30V301.30"/>
<path d="M171.11 308.30V301.30"/>
<path d="M176.49 308.30V301.30"/>
<path d="M179.49 308.30V301.30"/>
<path d="M186.39 308.30V301.30"/>
<path d="M189.39 308.30V301.30"/>
<path d="M196.32 308.30V301.30"/>
<path d="M199.32 308.30V301.30"/>
<path d="M204.18 308.30V301.30"/>
<path d="M207.62 308.30V301.30"/>
<path d="M212.53 308.30V301.30"/>
<path d="M215.53 308.30V301.30"/>
<path d="M220.91 308.30V301.30"/>
<path d="M224.35 308.30V301.30"/>
<path d="M229.51 308.30V301.30"/>
<path d="M232.51 308.30V301.30"/>
<path d="M238.36 308.30V301.30"/>
<path d="M241.36 308.30V301.30"/>
<path d="M246.79 308.30V301.30"/>
<path d="M249.79 308.30V301.30"/>
<path d="M290.40 249.60V256.45"/>
<path d="M293.40 249.60V256.45"/>
<path d="M297.79 249.60V256.45"/>
<path d="M301.23 249.60V256.45"/>
<path d="M304.20 249.60V256.45"/>
<path d="M307.64 249.60V256.45"/>
<path d="M313.50 249.60V256.45"/>
<path d="M316.50 249.60V256.45"/>
<path d="M323.90 249.60V256.45"/>
<path d="M326.90 249.60V256.45"/>
<path d="M331.45 249.60V256.45"/>
<path d="M334.89 249.60V256.45"/>
<path d="M338.87 249.60V256.45"/>
<path d="M342.31 249.60V256.45"/>
<path d="M346.19 249.60V256.45"/>
<path d="M349.63 249.60V256.45"/>
<path d="M353.62 249.60V256.45"/>
<path d="M357.06 249.60V256.45"/>
<path d="M360.71 249.60V256.45"/>
<path d="M364.15 249.60V256.45"/>
<path d="M369.15 249.60V256.45"/>
<path d="M372.59 249.60V256.45"/>
<path d="M377.02 249.60V256.45"/>
<path d="M380.02 249.60V256.45"/>
<path d="M386.30 249.60V256.45"/>
<path d="M389.30 249.60V256.45"/>
<path d="M393.79 249.60V256.45"/>
<path d="M397.23 249.60V256.45"/>
<path d="M402.17 249.60V256.45"/>
<path d="M405.17 249.60V256.45"/>
<path d="M290.98 263.80V256.95"/>
<path d="M294.42 263.80V256.95"/>
<path d="M300.69 263.80V256.95"/>
<path d="M303.69 263.80V256.95"/>
<path d="M308.42 263.80V256.95"/>
<path d="M311.86 263.80V256.95"/>
<path d="M316.54 263.80V256.95"/>
<path d="M319.54 263.80V256.95"/>
<path d="M324.43 263.80V256.95"/>
<path d="M327.87 263.80V256.95"/>
<path d="M332.80 263.80V256.95"/>
<path d="M335.80 263.80V256.95"/>
<path d="M340.08 263.80V256.95"/>
<path d="M343.52 263.80V256.95"/>
<path d="M347.07 263.80V256.95"/>
<path d="M350.51 263.80V256.95"/>
<path d="M353.82 263.80V256.95"/>
<path d="M357.26 263.80V256.95"/>
<path d="M361.04 263.80V256.95"/>
<path d="M364.48 263.80V256.95"/>
<path d="M371.14 263.80V256.95"/>
<path d="M374.14 263.80V256.95"/>
<path d="M380.51 263.80V256.95"/>
<path d="M383.51 263.80V256.95"/>
<path d="M388.21 263.80V256.95"/>
<path d="M391.65 263.80V256.95"/>
<path d="M395.68 263.80V256.95"/>
<path d="M398.68 263.80V256.95"/>
<path d="M403.54 263.80V256.95"/>
<path d="M406.98 263.80V256.95"/>
<path d="M290.36 293.80V300.80"/>
<path d="M293.36 293.80V300.80"/>
<path d="M299.96 293.80V300.80"/>
<path d="M302.96 293.80V300.80"/>
<path d="M309.15 293.80V300.80"/>
<path d="M312.59 293.80V300.80"/>
<path d="M318.27 293.80V300.80"/>
<path d="M321.27 293.80V300.80"/>
<path d="M325.46 293.80V300.80"/>
<path d="M328.90 293.80V300.80"/>
<path d="M333.41 293.80V300.80"/>
<path d="M336.85 293.80V300.80"/>
<path d="M340.74 293.80V300.80"/>
<path d="M344.18 293.80V300.80"/>
<path d="M347.51 293.80V300.80"/>
<path d="M350.95 293.80V300.80"/>
<path d="M354.58 293.80V300.80"/>
<path d="M358.02 293.80V300.80"/>
<path d="M362.04 293.80V300.80"/>
<path d="M365.48 293.80V300.80"/>
<path d="M369.97 293.80V300.80"/>
<path d="M372.97 293.80V300.80"/>
<path d="M378.76 293.80V300.80"/>
<path d="M381.76 293.80V300.80"/>
<path d="M386.80 293.80V300.80"/>
<path d="M390.24 293.80V300.80"/>
<path d="M394.39 293.80V300.80"/>
<path d="M397.39 293.80V300.80"/>
<path d="M402.63 293.80V300.80"/>
<path d="M405.63 293.80V300.80"/>
<path d="M291.05 308.30V301.30"/>
<path d="M294.49 308.30V301.30"/>
<path d="M299.77 308.30V301.30"/>
<path d="M302.77 308.30V301.30"/>
<path d="M309.87 308.30V301.30"/>
<path d="M312.87 308.30V301.30"/>
<path d="M318.80 308.30V301.30"/>
<path d="M322.24 308.30V301.30"/>
<path d="M326.26 308.30V301.30"/>
<path d="M329.26 308.30V301.30"/>
<path d="M334.33 308.30V301.30"/>
<path d="M337.77 308.30V301.30"/>
<path d="M341.23 308.30V301.30"/>
<path d="M344.67 308.30V301.30"/>
<path d="M348.32 308.30V301.30"/>
<path d="M351.76 308.30V301.30"/>
<path d="M355.23 308.30V301.30"/>
<path d="M358.67 308.30V301.30"/>
<path d="M362.41 308.30V301.30"/>
<path d="M365.85 308.30V301.30"/>
<path d="M371.34 308.30V301.30"/>
<path d="M374.34 308.30V301.30"/>
<path d="M378.58 308.30V301.30"/>
<path d="M382.02 308.30V301.30"/>
<path d="M387.15 308.30V301.30"/>
<path d="M390.15 308.30V301.30"/>
<path d="M394.71 308.30V301.30"/>
<path d="M398.15 308.30V301.30"/>
<path d="M404.61 308.30V301.30"/>
<path d="M407.61 308.30V301.30"/>
<path d="M450.43 249.60V256.45"/>
<path d="M453.87 249.60V256.45"/>
<path d="M457.62 249.60V256.45"/>
<path d="M461.06 249.60V256.45"/>
<path d="M465.26 249.60V256.45"/>
<path d="M468.26 249.60V256.45"/>
<path d="M471.76 249.60V256.45"/>
<path d="M475.20 249.60V256.45"/>
<path d="M478.39 249.60V256.45"/>
<path d="M481.83 249.60V256.45"/>
<path d="M485.14 249.60V256.45"/>
<path d="M488.58 249.60V256.45"/>
<path d="M493.10 249.60V256.45"/>
<path d="M496.10 249.60V256.45"/>
<path d="M500.00 249.60V256.45"/>
<path d="M503.44 249.60V256.45"/>
<path d="M505.91 249.60V256.45"/>
<path d="M509.35 249.60V256.45"/>
<path d="M511.95 249.60V256.45"/>
<path d="M515.39 249.60V256.45"/>
<path d="M518.82 249.60V256.45"/>
<path d="M522.26 249.60V256.45"/>
<path d="M525.87 249.60V256.45"/>
<path d="M528.87 249.60V256.45"/>
<path d="M535.22 249.60V256.45"/>
<path d="M538.22 249.60V256.45"/>
<path d="M540.75 249.60V256.45"/>
<path d="M544.19 249.60V256.45"/>
<path d="M547.03 249.60V256.45"/>
<path d="M550.47 249.60V256.45"/>
<path d="M554.71 249.60V256.45"/>
<path d="M557.71 249.60V256.45"/>
<path d="M562.89 249.60V256.45"/>
<path d="M566.33 249.60V256.45"/>
<path d="M569.45 249.60V256.45"/>
<path d="M572.89 249.60V256.45"/>
<path d="M577.38 249.60V256.45"/>
<path d="M580.38 249.60V256.45"/>
<path d="M584.76 249.60V256.45"/>
<path d="M588.20 249.60V256.45"/>
<path d="M593.17 249.60V256.45"/>
<path d="M596.17 249.60V256.45"/>
<path d="M604.33 249.60V256.45"/>
<path d="M607.33 249.60V256.45"/>
<path d="M611.66 249.60V256.45"/>
<path d="M615.10 249.60V256.45"/>
<path d="M450.32 263.80V256.95"/>
<path d="M453.76 263.80V256.95"/>
<path d="M457.41 263.80V256.95"/>
<path d="M460.41 263.80V256.95"/>
<path d="M465.26 263.80V256.95"/>
<path d="M468.26 263.80V256.95"/>
<path d="M472.13 263.80V256.95"/>
<path d="M475.57 263.80V256.95"/>
<path d="M478.71 263.80V256.95"/>
<path d="M482.15 263.80V256.95"/>
<path d="M485.28 263.80V256.95"/>
<path d="M488.72 263.80V256.95"/>
<path d="M492.95 263.80V256.95"/>
<path d="M495.95 263.80V256.95"/>
<path d="M499.72 263.80V256.95"/>
<path d="M503.16 263.80V256.95"/>
<path d="M506.35 263.80V256.95"/>
<path d="M509.79 263.80V256.95"/>
<path d="M512.21 263.80V256.95"/>
<path d="M515.65 263.80V256.95"/>
<path d="M519.37 263.80V256.95"/>
<path d="M522.37 263.80V256.95"/>
<path d="M527.13 263.80V256.95"/>
<path d="M530.13 263.80V256.95"/>
<path d="M534.01 263.80V256.95"/>
<path d="M537.45 263.80V256.95"/>
<path d="M540.31 263.80V256.95"/>
<path d="M543.75 263.80V256.95"/>
<path d="M549.39 263.80V256.95"/>
<path d="M552.39 263.80V256.95"/>
<path d="M557.01 263.80V256.95"/>
<path d="M560.45 263.80V256.95"/>
<path d="M563.37 263.80V256.95"/>
<path d="M566.81 263.80V256.95"/>
<path d="M570.69 263.80V256.95"/>
<path d="M574.13 263.80V256.95"/>
<path d="M578.05 263.80V256.95"/>
<path d="M581.05 263.80V256.95"/>
<path d="M584.58 263.80V256.95"/>
<path d="M588.02 263.80V256.95"/>
<path d="M591.23 263.80V256.95"/>
<path d="M594.67 263.80V256.95"/>
<path d="M597.69 263.80V256.95"/>
<path d="M601.13 263.80V256.95"/>
<path d="M604.93 263.80V256.95"/>
<path d="M607.93 263.80V256.95"/>
<path d="M612.29 263.80V256.95"/>
<path d="M615.73 263.80V256.95"/>
<path d="M450.41 293.80V300.80"/>
<path d="M453.85 293.80V300.80"/>
<path d="M459.07 293.80V300.80"/>
<path d="M462.07 293.80V300.80"/>
<path d="M467.45 293.80V300.80"/>
<path d="M470.45 293.80V300.80"/>
<path d="M474.48 293.80V300.80"/>
<path d="M477.92 293.80V300.80"/>
<path d="M480.95 293.80V300.80"/>
<path d="M484.39 293.80V300.80"/>
<path d="M490.65 293.80V300.80"/>
<path d="M493.65 293.80V300.80"/>
<path d="M498.73 293.80V300.80"/>
<path d="M502.17 293.80V300.80"/>
<path d="M505.27 293.80V300.80"/>
<path d="M508.71 293.80V300.80"/>
<path d="M512.22 293.80V300.80"/>
<path d="M515.66 293.80V300.80"/>
<path d="M519.05 293.80V300.80"/>
<path d="M522.05 293.80V300.80"/>
<path d="M525.58 293.80V300.80"/>
<path d="M529.02 293.80V300.80"/>
<path d="M531.45 293.80V300.80"/>
<path d="M534.89 293.80V300.80"/>
<path d="M538.54 293.80V300.80"/>
<path d="M541.98 293.80V300.80"/>
<path d="M546.23 293.80V300.80"/>
<path d="M549.23 293.80V300.80"/>
<path d="M555.73 293.80V300.80"/>
<path d="M558.73 293.80V300.80"/>
<path d="M562.89 293.80V300.80"/>
<path d="M566.33 293.80V300.80"/>
<path d="M569.11 293.80V300.80"/>
<path d="M572.55 293.80V300.80"/>
<path d="M577.14 293.80V300.80"/>
<path d="M580.14 293.80V300.80"/>
<path d="M584.66 293.80V300.80"/>
<path d="M588.10 293.80V300.80"/>
<path d="M591.06 293.80V300.80"/>
<path d="M594.50 293.80V300.80"/>
<path d="M597.83 293.80V300.80"/>
<path d="M601.27 293.80V300.80"/>
<path d="M604.96 293.80V300.80"/>
<path d="M607.96 293.80V300.80"/>
<path d="M612.09 293.80V300.80"/>
<path d="M615.53 293.80V300.80"/>
<path d="M451.12 308.30V301.30"/>
<path d="M454.56 308.30V301.30"/>
<path d="M459.22 308.30V301.30"/>
<path d="M462.22 308.30V301.30"/>
<path d="M468.54 308.30V301.30"/>
<path d="M471.54 308.30V301.30"/>
<path d="M475.33 308.30V301.30"/>
<path d="M478.77 308.30V301.30"/>
<path d="M480.94 308.30V301.30"/>
<path d="M484.38 308.30V301.30"/>
<path d="M487.02 308.30V301.30"/>
<path d="M490.02 308.30V301.30"/>
<path d="M492.71 308.30V301.30"/>
<path d="M496.15 308.30V301.30"/>
<path d="M500.13 308.30V301.30"/>
<path d="M503.13 308.30V301.30"/>
<path d="M505.56 308.30V301.30"/>
<path d="M509.00 308.30V301.30"/>
<path d="M510.77 308.30V301.30"/>
<path d="M513.77 308.30V301.30"/>
<path d="M516.47 308.30V301.30"/>
<path d="M519.47 308.30V301.30"/>
<path d="M523.18 308.30V301.30"/>
<path d="M526.62 308.30V301.30"/>
<path d="M530.79 308.30V301.30"/>
<path d="M533.79 308.30V301.30"/>
<path d="M539.24 308.30V301.30"/>
<path d="M542.24 308.30V301.30"/>
<path d="M546.02 308.30V301.30"/>
<path d="M549.46 308.30V301.30"/>
<path d="M551.88 308.30V301.30"/>
<path d="M555.32 308.30V301.30"/>
<path d="M557.67 308.30V301.30"/>
<path d="M561.11 308.30V301.30"/>
<path d="M563.46 308.30V301.30"/>
<path d="M566.90 308.30V301.30"/>
<path d="M571.58 308.30V301.30"/>
<path d="M574.58 308.30V301.30"/>
<path d="M578.92 308.30V301.30"/>
<path d="M582.36 308.30V301.30"/>
<path d="M584.72 308.30V301.30"/>
<path d="M588.16 308.30V301.30"/>
<path d="M591.74 308.30V301.30"/>
<path d="M595.18 308.30V301.30"/>
<path d="M599.12 308.30V301.30"/>
<path d="M602.12 308.30V301.30"/>
<path d="M605.97 308.30V301.30"/>
<path d="M609.41 308.30V301.30"/>
<path d="M612.25 308.30V301.30"/>
<path d="M615.69 308.30V301.30"/>
</g>
<g fill="none" stroke="#c19e3e" stroke-width="1.2" stroke-dasharray="1.0 0.9">
<path d="M47.73 249.60V256.45"/>
<path d="M51.17 249.60V256.45"/>
<path d="M54.77 249.60V256.45"/>
<path d="M57.77 249.60V256.45"/>
<path d="M64.58 249.60V256.45"/>
<path d="M67.58 249.60V256.45"/>
<path d="M74.92 249.60V256.45"/>
<path d="M77.92 249.60V256.45"/>
<path d="M82.11 249.60V256.45"/>
<path d="M85.55 249.60V256.45"/>
<path d="M89.23 249.60V256.45"/>
<path d="M92.23 249.60V256.45"/>
<path d="M99.59 249.60V256.45"/>
<path d="M102.59 249.60V256.45"/>
<path d="M110.27 249.60V256.45"/>
<path d="M113.27 249.60V256.45"/>
<path d="M120.90 249.60V256.45"/>
<path d="M123.90 249.60V256.45"/>
<path d="M50.00 263.80V256.95"/>
<path d="M53.00 263.80V256.95"/>
<path d="M56.69 263.80V256.95"/>
<path d="M60.13 263.80V256.95"/>
<path d="M64.70 263.80V256.95"/>
<path d="M67.70 263.80V256.95"/>
<path d="M74.97 263.80V256.95"/>
<path d="M77.97 263.80V256.95"/>
<path d="M84.39 263.80V256.95"/>
<path d="M87.39 263.80V256.95"/>
<path d="M93.88 263.80V256.95"/>
<path d="M96.88 263.80V256.95"/>
<path d="M102.49 263.80V256.95"/>
<path d="M105.49 263.80V256.95"/>
<path d="M112.74 263.80V256.95"/>
<path d="M115.74 263.80V256.95"/>
<path d="M120.32 263.80V256.95"/>
<path d="M123.76 263.80V256.95"/>
<path d="M50.01 293.80V300.80"/>
<path d="M53.01 293.80V300.80"/>
<path d="M59.03 293.80V300.80"/>
<path d="M62.03 293.80V300.80"/>
<path d="M68.02 293.80V300.80"/>
<path d="M71.02 293.80V300.80"/>
<path d="M75.97 293.80V300.80"/>
<path d="M79.41 293.80V300.80"/>
<path d="M83.85 293.80V300.80"/>
<path d="M86.85 293.80V300.80"/>
<path d="M94.25 293.80V300.80"/>
<path d="M97.25 293.80V300.80"/>
<path d="M103.32 293.80V300.80"/>
<path d="M106.76 293.80V300.80"/>
<path d="M110.72 293.80V300.80"/>
<path d="M113.72 293.80V300.80"/>
<path d="M120.26 293.80V300.80"/>
<path d="M123.26 293.80V300.80"/>
<path d="M50.17 308.30V301.30"/>
<path d="M53.17 308.30V301.30"/>
<path d="M60.35 308.30V301.30"/>
<path d="M63.35 308.30V301.30"/>
<path d="M70.06 308.30V301.30"/>
<path d="M73.06 308.30V301.30"/>
<path d="M78.08 308.30V301.30"/>
<path d="M81.52 308.30V301.30"/>
<path d="M84.75 308.30V301.30"/>
<path d="M87.75 308.30V301.30"/>
<path d="M94.22 308.30V301.30"/>
<path d="M97.22 308.30V301.30"/>
<path d="M103.29 308.30V301.30"/>
<path d="M106.29 308.30V301.30"/>
<path d="M113.53 308.30V301.30"/>
<path d="M116.53 308.30V301.30"/>
<path d="M121.72 308.30V301.30"/>
<path d="M124.72 308.30V301.30"/>
<path d="M165.84 249.60V256.45"/>
<path d="M168.84 249.60V256.45"/>
<path d="M172.73 249.60V256.45"/>
<path d="M176.17 249.60V256.45"/>
<path d="M180.16 249.60V256.45"/>
<path d="M183.60 249.60V256.45"/>
<path d="M189.14 249.60V256.45"/>
<path d="M192.14 249.60V256.45"/>
<path d="M199.38 249.60V256.45"/>
<path d="M202.38 249.60V256.45"/>
<path d="M206.53 249.60V256.45"/>
<path d="M209.97 249.60V256.45"/>
<path d="M214.85 249.60V256.45"/>
<path d="M217.85 249.60V256.45"/>
<path d="M224.55 249.60V256.45"/>
<path d="M227.55 249.60V256.45"/>
<path d="M233.25 249.60V256.45"/>
<path d="M236.69 249.60V256.45"/>
<path d="M243.58 249.60V256.45"/>
<path d="M246.58 249.60V256.45"/>
<path d="M167.60 263.80V256.95"/>
<path d="M171.04 263.80V256.95"/>
<path d="M175.54 263.80V256.95"/>
<path d="M178.54 263.80V256.95"/>
<path d="M183.51 263.80V256.95"/>
<path d="M186.95 263.80V256.95"/>
<path d="M191.72 263.80V256.95"/>
<path d="M194.72 263.80V256.95"/>
<path d="M201.80 263.80V256.95"/>
<path d="M204.80 263.80V256.95"/>
<path d="M211.39 263.80V256.95"/>
<path d="M214.39 263.80V256.95"/>
<path d="M220.57 263.80V256.95"/>
<path d="M223.57 263.80V256.95"/>
<path d="M228.25 263.80V256.95"/>
<path d="M231.69 263.80V256.95"/>
<path d="M237.15 263.80V256.95"/>
<path d="M240.15 263.80V256.95"/>
<path d="M244.90 263.80V256.95"/>
<path d="M248.34 263.80V256.95"/>
<path d="M167.67 293.80V300.80"/>
<path d="M171.11 293.80V300.80"/>
<path d="M175.57 293.80V300.80"/>
<path d="M178.57 293.80V300.80"/>
<path d="M183.33 293.80V300.80"/>
<path d="M186.77 293.80V300.80"/>
<path d="M193.02 293.80V300.80"/>
<path d="M196.02 293.80V300.80"/>
<path d="M201.04 293.80V300.80"/>
<path d="M204.48 293.80V300.80"/>
<path d="M209.25 293.80V300.80"/>
<path d="M212.25 293.80V300.80"/>
<path d="M219.46 293.80V300.80"/>
<path d="M222.46 293.80V300.80"/>
<path d="M228.45 293.80V300.80"/>
<path d="M231.89 293.80V300.80"/>
<path d="M236.78 293.80V300.80"/>
<path d="M239.78 293.80V300.80"/>
<path d="M245.33 293.80V300.80"/>
<path d="M248.33 293.80V300.80"/>
<path d="M167.67 308.30V301.30"/>
<path d="M171.11 308.30V301.30"/>
<path d="M176.49 308.30V301.30"/>
<path d="M179.49 308.30V301.30"/>
<path d="M186.39 308.30V301.30"/>
<path d="M189.39 308.30V301.30"/>
<path d="M196.32 308.30V301.30"/>
<path d="M199.32 308.30V301.30"/>
<path d="M204.18 308.30V301.30"/>
<path d="M207.62 308.30V301.30"/>
<path d="M212.53 308.30V301.30"/>
<path d="M215.53 308.30V301.30"/>
<path d="M220.91 308.30V301.30"/>
<path d="M224.35 308.30V301.30"/>
<path d="M229.51 308.30V301.30"/>
<path d="M232.51 308.30V301.30"/>
<path d="M238.36 308.30V301.30"/>
<path d="M241.36 308.30V301.30"/>
<path d="M246.79 308.30V301.30"/>
<path d="M249.79 308.30V301.30"/>
<path d="M290.40 249.60V256.45"/>
<path d="M293.40 249.60V256.45"/>
<path d="M297.79 249.60V256.45"/>
<path d="M301.23 249.60V256.45"/>
<path d="M304.20 249.60V256.45"/>
<path d="M307.64 249.60V256.45"/>
<path d="M313.50 249.60V256.45"/>
<path d="M316.50 249.60V256.45"/>
<path d="M323.90 249.60V256.45"/>
<path d="M326.90 249.60V256.45"/>
<path d="M331.45 249.60V256.45"/>
<path d="M334.89 249.60V256.45"/>
<path d="M338.87 249.60V256.45"/>
<path d="M342.31 249.60V256.45"/>
<path d="M346.19 249.60V256.45"/>
<path d="M349.63 249.60V256.45"/>
<path d="M353.62 249.60V256.45"/>
<path d="M357.06 249.60V256.45"/>
<path d="M360.71 249.60V256.45"/>
<path d="M364.15 249.60V256.45"/>
<path d="M369.15 249.60V256.45"/>
<path d="M372.59 249.60V256.45"/>
<path d="M377.02 249.60V256.45"/>
<path d="M380.02 249.60V256.45"/>
<path d="M386.30 249.60V256.45"/>
<path d="M389.30 249.60V256.45"/>
<path d="M393.79 249.60V256.45"/>
<path d="M397.23 249.60V256.45"/>
<path d="M402.17 249.60V256.45"/>
<path d="M405.17 249.60V256.45"/>
<path d="M290.98 263.80V256.95"/>
<path d="M294.42 263.80V256.95"/>
<path d="M300.69 263.80V256.95"/>
<path d="M303.69 263.80V256.95"/>
<path d="M308.42 263.80V256.95"/>
<path d="M311.86 263.80V256.95"/>
<path d="M316.54 263.80V256.95"/>
<path d="M319.54 263.80V256.95"/>
<path d="M324.43 263.80V256.95"/>
<path d="M327.87 263.80V256.95"/>
<path d="M332.80 263.80V256.95"/>
<path d="M335.80 263.80V256.95"/>
<path d="M340.08 263.80V256.95"/>
<path d="M343.52 263.80V256.95"/>
<path d="M347.07 263.80V256.95"/>
<path d="M350.51 263.80V256.95"/>
<path d="M353.82 263.80V256.95"/>
<path d="M357.26 263.80V256.95"/>
<path d="M361.04 263.80V256.95"/>
<path d="M364.48 263.80V256.95"/>
<path d="M371.14 263.80V256.95"/>
<path d="M374.14 263.80V256.95"/>
<path d="M380.51 263.80V256.95"/>
<path d="M383.51 263.80V256.95"/>
<path d="M388.21 263.80V256.95"/>
<path d="M391.65 263.80V256.95"/>
<path d="M395.68 263.80V256.95"/>
<path d="M398.68 263.80V256.95"/>
<path d="M403.54 263.80V256.95"/>
<path d="M406.98 263.80V256.95"/>
<path d="M290.36 293.80V300.80"/>
<path d="M293.36 293.80V300.80"/>
<path d="M299.96 293.80V300.80"/>
<path d="M302.96 293.80V300.80"/>
<path d="M309.15 293.80V300.80"/>
<path d="M312.59 293.80V300.80"/>
<path d="M318.27 293.80V300.80"/>
<path d="M321.27 293.80V300.80"/>
<path d="M325.46 293.80V300.80"/>
<path d="M328.90 293.80V300.80"/>
<path d="M333.41 293.80V300.80"/>
<path d="M336.85 293.80V300.80"/>
<path d="M340.74 293.80V300.80"/>
<path d="M344.18 293.80V300.80"/>
<path d="M347.51 293.80V300.80"/>
<path d="M350.95 293.80V300.80"/>
<path d="M354.58 293.80V300.80"/>
<path d="M358.02 293.80V300.80"/>
<path d="M362.04 293.80V300.80"/>
<path d="M365.48 293.80V300.80"/>
<path d="M369.97 293.80V300.80"/>
<path d="M372.97 293.80V300.80"/>
<path d="M378.76 293.80V300.80"/>
<path d="M381.76 293.80V300.80"/>
<path d="M386.80 293.80V300.80"/>
<path d="M390.24 293.80V300.80"/>
<path d="M394.39 293.80V300.80"/>
<path d="M397.39 293.80V300.80"/>
<path d="M402.63 293.80V300.80"/>
<path d="M405.63 293.80V300.80"/>
<path d="M291.05 308.30V301.30"/>
<path d="M294.49 308.30V301.30"/>
<path d="M299.77 308.30V301.30"/>
<path d="M302.77 308.30V301.30"/>
<path d="M309.87 308.30V301.30"/>
<path d="M312.87 308.30V301.30"/>
<path d="M318.80 308.30V301.30"/>
<path d="M322.24 308.30V301.30"/>
<path d="M326.26 308.30V301.30"/>
<path d="M329.26 308.30V301.30"/>
<path d="M334.33 308.30V301.30"/>
<path d="M337.77 308.30V301.30"/>
<path d="M341.23 308.30V301.30"/>
<path d="M344.67 308.30V301.30"/>
<path d="M348.32 308.30V301.30"/>
<path d="M351.76 308.30V301.30"/>
<path d="M355.23 308.30V301.30"/>
<path d="M358.67 308.30V301.30"/>
<path d="M362.41 308.30V301.30"/>
<path d="M365.85 308.30V301.30"/>
<path d="M371.34 308.30V301.30"/>
<path d="M374.34 308.30V301.30"/>
<path d="M378.58 308.30V301.30"/>
<path d="M382.02 308.30V301.30"/>
<path d="M387.15 308.30V301.30"/>
<path d="M390.15 308.30V301.30"/>
<path d="M394.71 308.30V301.30"/>
<path d="M398.15 308.30V301.30"/>
<path d="M404.61 308.30V301.30"/>
<path d="M407.61 308.30V301.30"/>
<path d="M450.43 249.60V256.45"/>
<path d="M453.87 249.60V256.45"/>
<path d="M457.62 249.60V256.45"/>
<path d="M461.06 249.60V256.45"/>
<path d="M465.26 249.60V256.45"/>
<path d="M468.26 249.60V256.45"/>
<path d="M471.76 249.60V256.45"/>
<path d="M475.20 249.60V256.45"/>
<path d="M478.39 249.60V256.45"/>
<path d="M481.83 249.60V256.45"/>
<path d="M485.14 249.60V256.45"/>
<path d="M488.58 249.60V256.45"/>
<path d="M493.10 249.60V256.45"/>
<path d="M496.10 249.60V256.45"/>
<path d="M500.00 249.60V256.45"/>
<path d="M503.44 249.60V256.45"/>
<path d="M505.91 249.60V256.45"/>
<path d="M509.35 249.60V256.45"/>
<path d="M511.95 249.60V256.45"/>
<path d="M515.39 249.60V256.45"/>
<path d="M518.82 249.60V256.45"/>
<path d="M522.26 249.60V256.45"/>
<path d="M525.87 249.60V256.45"/>
<path d="M528.87 249.60V256.45"/>
<path d="M535.22 249.60V256.45"/>
<path d="M538.22 249.60V256.45"/>
<path d="M540.75 249.60V256.45"/>
<path d="M544.19 249.60V256.45"/>
<path d="M547.03 249.60V256.45"/>
<path d="M550.47 249.60V256.45"/>
<path d="M554.71 249.60V256.45"/>
<path d="M557.71 249.60V256.45"/>
<path d="M562.89 249.60V256.45"/>
<path d="M566.33 249.60V256.45"/>
<path d="M569.45 249.60V256.45"/>
<path d="M572.89 249.60V256.45"/>
<path d="M577.38 249.60V256.45"/>
<path d="M580.38 249.60V256.45"/>
<path d="M584.76 249.60V256.45"/>
<path d="M588.20 249.60V256.45"/>
<path d="M593.17 249.60V256.45"/>
<path d="M596.17 249.60V256.45"/>
<path d="M604.33 249.60V256.45"/>
<path d="M607.33 249.60V256.45"/>
<path d="M611.66 249.60V256.45"/>
<path d="M615.10 249.60V256.45"/>
<path d="M450.32 263.80V256.95"/>
<path d="M453.76 263.80V256.95"/>
<path d="M457.41 263.80V256.95"/>
<path d="M460.41 263.80V256.95"/>
<path d="M465.26 263.80V256.95"/>
<path d="M468.26 263.80V256.95"/>
<path d="M472.13 263.80V256.95"/>
<path d="M475.57 263.80V256.95"/>
<path d="M478.71 263.80V256.95"/>
<path d="M482.15 263.80V256.95"/>
<path d="M485.28 263.80V256.95"/>
<path d="M488.72 263.80V256.95"/>
<path d="M492.95 263.80V256.95"/>
<path d="M495.95 263.80V256.95"/>
<path d="M499.72 263.80V256.95"/>
<path d="M503.16 263.80V256.95"/>
<path d="M506.35 263.80V256.95"/>
<path d="M509.79 263.80V256.95"/>
<path d="M512.21 263.80V256.95"/>
<path d="M515.65 263.80V256.95"/>
<path d="M519.37 263.80V256.95"/>
<path d="M522.37 263.80V256.95"/>
<path d="M527.13 263.80V256.95"/>
<path d="M530.13 263.80V256.95"/>
<path d="M534.01 263.80V256.95"/>
<path d="M537.45 263.80V256.95"/>
<path d="M540.31 263.80V256.95"/>
<path d="M543.75 263.80V256.95"/>
<path d="M549.39 263.80V256.95"/>
<path d="M552.39 263.80V256.95"/>
<path d="M557.01 263.80V256.95"/>
<path d="M560.45 263.80V256.95"/>
<path d="M563.37 263.80V256.95"/>
<path d="M566.81 263.80V256.95"/>
<path d="M570.69 263.80V256.95"/>
<path d="M574.13 263.80V256.95"/>
<path d="M578.05 263.80V256.95"/>
<path d="M581.05 263.80V256.95"/>
<path d="M584.58 263.80V256.95"/>
<path d="M588.02 263.80V256.95"/>
<path d="M591.23 263.80V256.95"/>
<path d="M594.67 263.80V256.95"/>
<path d="M597.69 263.80V256.95"/>
<path d="M601.13 263.80V256.95"/>
<path d="M604.93 263.80V256.95"/>
<path d="M607.93 263.80V256.95"/>
<path d="M612.29 263.80V256.95"/>
<path d="M615.73 263.80V256.95"/>
<path d="M450.41 293.80V300.80"/>
<path d="M453.85 293.80V300.80"/>
<path d="M459.07 293.80V300.80"/>
<path d="M462.07 293.80V300.80"/>
<path d="M467.45 293.80V300.80"/>
<path d="M470.45 293.80V300.80"/>
<path d="M474.48 293.80V300.80"/>
<path d="M477.92 293.80V300.80"/>
<path d="M480.95 293.80V300.80"/>
<path d="M484.39 293.80V300.80"/>
<path d="M490.65 293.80V300.80"/>
<path d="M493.65 293.80V300.80"/>
<path d="M498.73 293.80V300.80"/>
<path d="M502.17 293.80V300.80"/>
<path d="M505.27 293.80V300.80"/>
<path d="M508.71 293.80V300.80"/>
<path d="M512.22 293.80V300.80"/>
<path d="M515.66 293.80V300.80"/>
<path d="M519.05 293.80V300.80"/>
<path d="M522.05 293.80V300.80"/>
<path d="M525.58 293.80V300.80"/>
<path d="M529.02 293.80V300.80"/>
<path d="M531.45 293.80V300.80"/>
<path d="M534.89 293.80V300.80"/>
<path d="M538.54 293.80V300.80"/>
<path d="M541.98 293.80V300.80"/>
<path d="M546.23 293.80V300.80"/>
<path d="M549.23 293.80V300.80"/>
<path d="M555.73 293.80V300.80"/>
<path d="M558.73 293.80V300.80"/>
<path d="M562.89 293.80V300.80"/>
<path d="M566.33 293.80V300.80"/>
<path d="M569.11 293.80V300.80"/>
<path d="M572.55 293.80V300.80"/>
<path d="M577.14 293.80V300.80"/>
<path d="M580.14 293.80V300.80"/>
<path d="M584.66 293.80V300.80"/>
<path d="M588.10 293.80V300.80"/>
<path d="M591.06 293.80V300.80"/>
<path d="M594.50 293.80V300.80"/>
<path d="M597.83 293.80V300.80"/>
<path d="M601.27 293.80V300.80"/>
<path d="M604.96 293.80V300.80"/>
<path d="M607.96 293.80V300.80"/>
<path d="M612.09 293.80V300.80"/>
<path d="M615.53 293.80V300.80"/>
<path d="M451.12 308.30V301.30"/>
<path d="M454.56 308.30V301.30"/>
<path d="M459.22 308.30V301.30"/>
<path d="M462.22 308.30V301.30"/>
<path d="M468.54 308.30V301.30"/>
<path d="M471.54 308.30V301.30"/>
<path d="M475.33 308.30V301.30"/>
<path d="M478.77 308.30V301.30"/>
<path d="M480.94 308.30V301.30"/>
<path d="M484.38 308.30V301.30"/>
<path d="M487.02 308.30V301.30"/>
<path d="M490.02 308.30V301.30"/>
<path d="M492.71 308.30V301.30"/>
<path d="M496.15 308.30V301.30"/>
<path d="M500.13 308.30V301.30"/>
<path d="M503.13 308.30V301.30"/>
<path d="M505.56 308.30V301.30"/>
<path d="M509.00 308.30V301.30"/>
<path d="M510.77 308.30V301.30"/>
<path d="M513.77 308.30V301.30"/>
<path d="M516.47 308.30V301.30"/>
<path d="M519.47 308.30V301.30"/>
<path d="M523.18 308.30V301.30"/>
<path d="M526.62 308.30V301.30"/>
<path d="M530.79 308.30V301.30"/>
<path d="M533.79 308.30V301.30"/>
<path d="M539.24 308.30V301.30"/>
<path d="M542.24 308.30V301.30"/>
<path d="M546.02 308.30V301.30"/>
<path d="M549.46 308.30V301.30"/>
<path d="M551.88 308.30V301.30"/>
<path d="M555.32 308.30V301.30"/>
<path d="M557.67 308.30V301.30"/>
<path d="M561.11 308.30V301.30"/>
<path d="M563.46 308.30V301.30"/>
<path d="M566.90 308.30V301.30"/>
<path d="M571.58 308.30V301.30"/>
<path d="M574.58 308.30V301.30"/>
<path d="M578.92 308.30V301.30"/>
<path d="M582.36 308.30V301.30"/>
<path d="M584.72 308.30V301.30"/>
<path d="M588.16 308.30V301.30"/>
<path d="M591.74 308.30V301.30"/>
<path d="M595.18 308.30V301.30"/>
<path d="M599.12 308.30V301.30"/>
<path d="M602.12 308.30V301.30"/>
<path d="M605.97 308.30V301.30"/>
<path d="M609.41 308.30V301.30"/>
<path d="M612.25 308.30V301.30"/>
<path d="M615.69 308.30V301.30"/>
</g>
<circle cx="49.52" cy="245.40" r="2.85" fill="url(#gP)" stroke="#24101a" stroke-width="1.0"/>
<ellipse cx="56.41" cy="244.77" rx="4.9" ry="3.6" transform="rotate(11 56.41 244.77)" fill="url(#gG)" stroke="#101a10" stroke-width="1.1"/>
<ellipse cx="66.07" cy="244.76" rx="4.9" ry="3.6" transform="rotate(-10 66.07 244.76)" fill="url(#gG)" stroke="#101a10" stroke-width="1.1"/>
<ellipse cx="76.41" cy="245.13" rx="4.9" ry="3.6" transform="rotate(-35 76.41 245.13)" fill="url(#gG)" stroke="#101a10" stroke-width="1.1"/>
<circle cx="84.00" cy="245.40" r="2.85" fill="url(#gP)" stroke="#24101a" stroke-width="1.0"/>
<ellipse cx="90.90" cy="245.53" rx="4.9" ry="3.6" transform="rotate(-6 90.90 245.53)" fill="url(#gG)" stroke="#101a10" stroke-width="1.1"/>
<ellipse cx="101.24" cy="245.33" rx="4.9" ry="3.6" transform="rotate(-21 101.24 245.33)" fill="url(#gG)" stroke="#101a10" stroke-width="1.1"/>
<ellipse cx="111.59" cy="245.10" rx="4.9" ry="3.6" transform="rotate(6 111.59 245.10)" fill="url(#gG)" stroke="#101a10" stroke-width="1.1"/>
<ellipse cx="122.21" cy="245.56" rx="4.9" ry="3.6" transform="rotate(-34 122.21 245.56)" fill="url(#gG)" stroke="#101a10" stroke-width="1.1"/>
<ellipse cx="51.59" cy="267.92" rx="4.9" ry="3.6" transform="rotate(-27 51.59 267.92)" fill="url(#gG)" stroke="#101a10" stroke-width="1.1"/>
<circle cx="58.48" cy="267.20" r="2.85" fill="url(#gP)" stroke="#24101a" stroke-width="1.0"/>
<ellipse cx="66.07" cy="268.38" rx="4.9" ry="3.6" transform="rotate(-24 66.07 268.38)" fill="url(#gG)" stroke="#101a10" stroke-width="1.1"/>
<ellipse cx="76.41" cy="268.35" rx="4.9" ry="3.6" transform="rotate(-10 76.41 268.35)" fill="url(#gG)" stroke="#101a10" stroke-width="1.1"/>
<ellipse cx="86.07" cy="268.01" rx="4.9" ry="3.6" transform="rotate(-33 86.07 268.01)" fill="url(#gG)" stroke="#101a10" stroke-width="1.1"/>
<ellipse cx="95.31" cy="268.58" rx="4.9" ry="3.6" transform="rotate(-72 95.31 268.58)" fill="url(#gG)" stroke="#101a10" stroke-width="1.1"/>
<ellipse cx="104.00" cy="268.16" rx="4.9" ry="3.6" transform="rotate(32 104.00 268.16)" fill="url(#gG)" stroke="#101a10" stroke-width="1.1"/>
<ellipse cx="114.34" cy="268.58" rx="4.9" ry="3.6" transform="rotate(-24 114.34 268.58)" fill="url(#gG)" stroke="#101a10" stroke-width="1.1"/>
<circle cx="122.21" cy="267.20" r="2.85" fill="url(#gP)" stroke="#24101a" stroke-width="1.0"/>
<ellipse cx="51.59" cy="289.74" rx="4.9" ry="3.6" transform="rotate(-0 51.59 289.74)" fill="url(#gG)" stroke="#101a10" stroke-width="1.1"/>
<ellipse cx="60.55" cy="289.47" rx="4.9" ry="3.6" transform="rotate(8 60.55 289.47)" fill="url(#gG)" stroke="#101a10" stroke-width="1.1"/>
<ellipse cx="69.52" cy="289.74" rx="4.9" ry="3.6" transform="rotate(-25 69.52 289.74)" fill="url(#gG)" stroke="#101a10" stroke-width="1.1"/>
<circle cx="77.52" cy="290.00" r="2.85" fill="url(#gP)" stroke="#24101a" stroke-width="1.0"/>
<ellipse cx="85.38" cy="289.48" rx="4.9" ry="3.6" transform="rotate(35 85.38 289.48)" fill="url(#gG)" stroke="#101a10" stroke-width="1.1"/>
<ellipse cx="95.72" cy="290.22" rx="4.9" ry="3.6" transform="rotate(22 95.72 290.22)" fill="url(#gG)" stroke="#101a10" stroke-width="1.1"/>
<circle cx="105.10" cy="290.00" r="2.85" fill="url(#gP)" stroke="#24101a" stroke-width="1.0"/>
<ellipse cx="112.28" cy="290.20" rx="4.9" ry="3.6" transform="rotate(-0 112.28 290.20)" fill="url(#gG)" stroke="#101a10" stroke-width="1.1"/>
<ellipse cx="121.93" cy="289.67" rx="4.9" ry="3.6" transform="rotate(-31 121.93 289.67)" fill="url(#gG)" stroke="#101a10" stroke-width="1.1"/>
<ellipse cx="51.59" cy="313.13" rx="4.9" ry="3.6" transform="rotate(-33 51.59 313.13)" fill="url(#gG)" stroke="#101a10" stroke-width="1.1"/>
<ellipse cx="61.93" cy="313.08" rx="4.9" ry="3.6" transform="rotate(6 61.93 313.08)" fill="url(#gG)" stroke="#101a10" stroke-width="1.1"/>
<ellipse cx="71.59" cy="313.29" rx="4.9" ry="3.6" transform="rotate(16 71.59 313.29)" fill="url(#gG)" stroke="#101a10" stroke-width="1.1"/>
<circle cx="79.86" cy="311.60" r="2.85" fill="url(#gP)" stroke="#24101a" stroke-width="1.0"/>
<ellipse cx="86.07" cy="313.01" rx="4.9" ry="3.6" transform="rotate(-11 86.07 313.01)" fill="url(#gG)" stroke="#101a10" stroke-width="1.1"/>
<ellipse cx="95.72" cy="312.69" rx="4.9" ry="3.6" transform="rotate(-21 95.72 312.69)" fill="url(#gG)" stroke="#101a10" stroke-width="1.1"/>
<ellipse cx="104.69" cy="313.32" rx="4.9" ry="3.6" transform="rotate(-8 104.69 313.32)" fill="url(#gG)" stroke="#101a10" stroke-width="1.1"/>
<ellipse cx="115.03" cy="312.80" rx="4.9" ry="3.6" transform="rotate(-25 115.03 312.80)" fill="url(#gG)" stroke="#101a10" stroke-width="1.1"/>
<ellipse cx="123.31" cy="312.83" rx="4.9" ry="3.6" transform="rotate(-28 123.31 312.83)" fill="url(#gG)" stroke="#101a10" stroke-width="1.1"/>
<ellipse cx="167.32" cy="245.69" rx="4.9" ry="3.6" transform="rotate(16 167.32 245.69)" fill="url(#gG)" stroke="#101a10" stroke-width="1.1"/>
<circle cx="174.37" cy="245.40" r="2.85" fill="url(#gP)" stroke="#24101a" stroke-width="1.0"/>
<circle cx="181.93" cy="245.40" r="2.85" fill="url(#gP)" stroke="#24101a" stroke-width="1.0"/>
<ellipse cx="190.75" cy="244.85" rx="4.9" ry="3.6" transform="rotate(-32 190.75 244.85)" fill="url(#gG)" stroke="#101a10" stroke-width="1.1"/>
<ellipse cx="200.82" cy="245.53" rx="4.9" ry="3.6" transform="rotate(-37 200.82 245.53)" fill="url(#gG)" stroke="#101a10" stroke-width="1.1"/>
<circle cx="208.38" cy="245.40" r="2.85" fill="url(#gP)" stroke="#24101a" stroke-width="1.0"/>
<ellipse cx="216.44" cy="245.23" rx="4.9" ry="3.6" transform="rotate(-27 216.44 245.23)" fill="url(#gG)" stroke="#101a10" stroke-width="1.1"/>
<ellipse cx="226.01" cy="244.83" rx="4.9" ry="3.6" transform="rotate(-14 226.01 244.83)" fill="url(#gG)" stroke="#101a10" stroke-width="1.1"/>
<circle cx="234.83" cy="245.40" r="2.85" fill="url(#gP)" stroke="#24101a" stroke-width="1.0"/>
<ellipse cx="244.90" cy="245.44" rx="4.9" ry="3.6" transform="rotate(12 244.90 245.44)" fill="url(#gG)" stroke="#101a10" stroke-width="1.1"/>
<circle cx="169.34" cy="267.20" r="2.85" fill="url(#gP)" stroke="#24101a" stroke-width="1.0"/>
<ellipse cx="176.89" cy="268.48" rx="4.9" ry="3.6" transform="rotate(34 176.89 268.48)" fill="url(#gG)" stroke="#101a10" stroke-width="1.1"/>
<circle cx="185.20" cy="267.20" r="2.85" fill="url(#gP)" stroke="#24101a" stroke-width="1.0"/>
<ellipse cx="193.26" cy="268.28" rx="4.9" ry="3.6" transform="rotate(-8 193.26 268.28)" fill="url(#gG)" stroke="#101a10" stroke-width="1.1"/>
<ellipse cx="203.34" cy="268.78" rx="4.9" ry="3.6" transform="rotate(-24 203.34 268.78)" fill="url(#gG)" stroke="#101a10" stroke-width="1.1"/>
<ellipse cx="212.91" cy="268.40" rx="4.9" ry="3.6" transform="rotate(-30 212.91 268.40)" fill="url(#gG)" stroke="#101a10" stroke-width="1.1"/>
<ellipse cx="222.23" cy="268.34" rx="4.9" ry="3.6" transform="rotate(62 222.23 268.34)" fill="url(#gG)" stroke="#101a10" stroke-width="1.1"/>
<circle cx="229.79" cy="267.20" r="2.85" fill="url(#gP)" stroke="#24101a" stroke-width="1.0"/>
<ellipse cx="238.60" cy="268.01" rx="4.9" ry="3.6" transform="rotate(-33 238.60 268.01)" fill="url(#gG)" stroke="#101a10" stroke-width="1.1"/>
<circle cx="246.66" cy="267.20" r="2.85" fill="url(#gP)" stroke="#24101a" stroke-width="1.0"/>
<circle cx="169.34" cy="290.00" r="2.85" fill="url(#gP)" stroke="#24101a" stroke-width="1.0"/>
<ellipse cx="176.89" cy="289.87" rx="4.9" ry="3.6" transform="rotate(8 176.89 289.87)" fill="url(#gG)" stroke="#101a10" stroke-width="1.1"/>
<circle cx="185.20" cy="290.00" r="2.85" fill="url(#gP)" stroke="#24101a" stroke-width="1.0"/>
<ellipse cx="194.52" cy="289.88" rx="4.9" ry="3.6" transform="rotate(36 194.52 289.88)" fill="url(#gG)" stroke="#101a10" stroke-width="1.1"/>
<circle cx="202.84" cy="290.00" r="2.85" fill="url(#gP)" stroke="#24101a" stroke-width="1.0"/>
<ellipse cx="210.90" cy="290.14" rx="4.9" ry="3.6" transform="rotate(19 210.90 290.14)" fill="url(#gG)" stroke="#101a10" stroke-width="1.1"/>
<ellipse cx="220.97" cy="289.92" rx="4.9" ry="3.6" transform="rotate(15 220.97 289.92)" fill="url(#gG)" stroke="#101a10" stroke-width="1.1"/>
<circle cx="230.29" cy="290.00" r="2.85" fill="url(#gP)" stroke="#24101a" stroke-width="1.0"/>
<ellipse cx="238.10" cy="290.09" rx="4.9" ry="3.6" transform="rotate(-11 238.10 290.09)" fill="url(#gG)" stroke="#101a10" stroke-width="1.1"/>
<ellipse cx="246.66" cy="289.70" rx="4.9" ry="3.6" transform="rotate(20 246.66 289.70)" fill="url(#gG)" stroke="#101a10" stroke-width="1.1"/>
<circle cx="169.34" cy="311.60" r="2.85" fill="url(#gP)" stroke="#24101a" stroke-width="1.0"/>
<ellipse cx="178.15" cy="312.92" rx="4.9" ry="3.6" transform="rotate(26 178.15 312.92)" fill="url(#gG)" stroke="#101a10" stroke-width="1.1"/>
<ellipse cx="187.72" cy="312.62" rx="4.9" ry="3.6" transform="rotate(-11 187.72 312.62)" fill="url(#gG)" stroke="#101a10" stroke-width="1.1"/>
<ellipse cx="197.80" cy="313.04" rx="4.9" ry="3.6" transform="rotate(0 197.80 313.04)" fill="url(#gG)" stroke="#101a10" stroke-width="1.1"/>
<circle cx="205.86" cy="311.60" r="2.85" fill="url(#gP)" stroke="#24101a" stroke-width="1.0"/>
<ellipse cx="213.92" cy="312.60" rx="4.9" ry="3.6" transform="rotate(20 213.92 312.60)" fill="url(#gG)" stroke="#101a10" stroke-width="1.1"/>
<circle cx="222.74" cy="311.60" r="2.85" fill="url(#gP)" stroke="#24101a" stroke-width="1.0"/>
<ellipse cx="231.05" cy="312.60" rx="4.9" ry="3.6" transform="rotate(23 231.05 312.60)" fill="url(#gG)" stroke="#101a10" stroke-width="1.1"/>
<ellipse cx="239.86" cy="313.39" rx="4.9" ry="3.6" transform="rotate(18 239.86 313.39)" fill="url(#gG)" stroke="#101a10" stroke-width="1.1"/>
<ellipse cx="248.18" cy="312.59" rx="4.9" ry="3.6" transform="rotate(-2 248.18 312.59)" fill="url(#gG)" stroke="#101a10" stroke-width="1.1"/>
<ellipse cx="291.86" cy="245.51" rx="4.9" ry="3.6" transform="rotate(-12 291.86 245.51)" fill="url(#gG)" stroke="#101a10" stroke-width="1.1"/>
<circle cx="299.42" cy="245.40" r="2.85" fill="url(#gP)" stroke="#24101a" stroke-width="1.0"/>
<circle cx="305.98" cy="245.40" r="2.85" fill="url(#gP)" stroke="#24101a" stroke-width="1.0"/>
<ellipse cx="314.81" cy="244.80" rx="4.9" ry="3.6" transform="rotate(-32 314.81 244.80)" fill="url(#gG)" stroke="#101a10" stroke-width="1.1"/>
<ellipse cx="325.41" cy="245.18" rx="4.9" ry="3.6" transform="rotate(-12 325.41 245.18)" fill="url(#gG)" stroke="#101a10" stroke-width="1.1"/>
<circle cx="332.98" cy="245.40" r="2.85" fill="url(#gP)" stroke="#24101a" stroke-width="1.0"/>
<circle cx="340.54" cy="245.40" r="2.85" fill="url(#gP)" stroke="#24101a" stroke-width="1.0"/>
<circle cx="348.11" cy="245.40" r="2.85" fill="url(#gP)" stroke="#24101a" stroke-width="1.0"/>
<circle cx="355.18" cy="245.40" r="2.85" fill="url(#gP)" stroke="#24101a" stroke-width="1.0"/>
<circle cx="362.49" cy="245.40" r="2.85" fill="url(#gP)" stroke="#24101a" stroke-width="1.0"/>
<circle cx="370.82" cy="245.40" r="2.85" fill="url(#gP)" stroke="#24101a" stroke-width="1.0"/>
<ellipse cx="378.39" cy="245.09" rx="4.9" ry="3.6" transform="rotate(-29 378.39 245.09)" fill="url(#gG)" stroke="#101a10" stroke-width="1.1"/>
<ellipse cx="387.72" cy="245.59" rx="4.9" ry="3.6" transform="rotate(-23 387.72 245.59)" fill="url(#gG)" stroke="#101a10" stroke-width="1.1"/>
<circle cx="395.54" cy="245.40" r="2.85" fill="url(#gP)" stroke="#24101a" stroke-width="1.0"/>
<ellipse cx="403.61" cy="245.65" rx="4.9" ry="3.6" transform="rotate(-31 403.61 245.65)" fill="url(#gG)" stroke="#101a10" stroke-width="1.1"/>
<circle cx="292.61" cy="267.20" r="2.85" fill="url(#gP)" stroke="#24101a" stroke-width="1.0"/>
<ellipse cx="302.20" cy="267.88" rx="4.9" ry="3.6" transform="rotate(18 302.20 267.88)" fill="url(#gG)" stroke="#101a10" stroke-width="1.1"/>
<circle cx="310.27" cy="267.20" r="2.85" fill="url(#gP)" stroke="#24101a" stroke-width="1.0"/>
<ellipse cx="317.84" cy="268.39" rx="4.9" ry="3.6" transform="rotate(-36 317.84 268.39)" fill="url(#gG)" stroke="#101a10" stroke-width="1.1"/>
<circle cx="326.17" cy="267.20" r="2.85" fill="url(#gP)" stroke="#24101a" stroke-width="1.0"/>
<ellipse cx="334.24" cy="268.40" rx="4.9" ry="3.6" transform="rotate(8 334.24 268.40)" fill="url(#gG)" stroke="#101a10" stroke-width="1.1"/>
<circle cx="341.81" cy="267.20" r="2.85" fill="url(#gP)" stroke="#24101a" stroke-width="1.0"/>
<circle cx="348.62" cy="267.20" r="2.85" fill="url(#gP)" stroke="#24101a" stroke-width="1.0"/>
<circle cx="355.68" cy="267.20" r="2.85" fill="url(#gP)" stroke="#24101a" stroke-width="1.0"/>
<circle cx="362.74" cy="267.20" r="2.85" fill="url(#gP)" stroke="#24101a" stroke-width="1.0"/>
<ellipse cx="372.84" cy="268.53" rx="4.9" ry="3.6" transform="rotate(23 372.84 268.53)" fill="url(#gG)" stroke="#101a10" stroke-width="1.1"/>
<ellipse cx="382.17" cy="267.94" rx="4.9" ry="3.6" transform="rotate(19 382.17 267.94)" fill="url(#gG)" stroke="#101a10" stroke-width="1.1"/>
<circle cx="389.74" cy="267.20" r="2.85" fill="url(#gP)" stroke="#24101a" stroke-width="1.0"/>
<ellipse cx="397.31" cy="267.83" rx="4.9" ry="3.6" transform="rotate(28 397.31 267.83)" fill="url(#gG)" stroke="#101a10" stroke-width="1.1"/>
<circle cx="405.38" cy="267.20" r="2.85" fill="url(#gP)" stroke="#24101a" stroke-width="1.0"/>
<ellipse cx="291.86" cy="289.73" rx="4.9" ry="3.6" transform="rotate(20 291.86 289.73)" fill="url(#gG)" stroke="#101a10" stroke-width="1.1"/>
<ellipse cx="301.44" cy="289.46" rx="4.9" ry="3.6" transform="rotate(25 301.44 289.46)" fill="url(#gG)" stroke="#101a10" stroke-width="1.1"/>
<circle cx="310.78" cy="290.00" r="2.85" fill="url(#gP)" stroke="#24101a" stroke-width="1.0"/>
<ellipse cx="319.61" cy="290.22" rx="4.9" ry="3.6" transform="rotate(12 319.61 290.22)" fill="url(#gG)" stroke="#101a10" stroke-width="1.1"/>
<circle cx="327.17" cy="290.00" r="2.85" fill="url(#gP)" stroke="#24101a" stroke-width="1.0"/>
<circle cx="334.99" cy="290.00" r="2.85" fill="url(#gP)" stroke="#24101a" stroke-width="1.0"/>
<circle cx="342.31" cy="290.00" r="2.85" fill="url(#gP)" stroke="#24101a" stroke-width="1.0"/>
<circle cx="349.37" cy="290.00" r="2.85" fill="url(#gP)" stroke="#24101a" stroke-width="1.0"/>
<circle cx="356.44" cy="290.00" r="2.85" fill="url(#gP)" stroke="#24101a" stroke-width="1.0"/>
<circle cx="363.75" cy="290.00" r="2.85" fill="url(#gP)" stroke="#24101a" stroke-width="1.0"/>
<ellipse cx="371.32" cy="290.01" rx="4.9" ry="3.6" transform="rotate(62 371.32 290.01)" fill="url(#gG)" stroke="#101a10" stroke-width="1.1"/>
<ellipse cx="380.15" cy="289.54" rx="4.9" ry="3.6" transform="rotate(-27 380.15 289.54)" fill="url(#gG)" stroke="#101a10" stroke-width="1.1"/>
<circle cx="388.48" cy="290.00" r="2.85" fill="url(#gP)" stroke="#24101a" stroke-width="1.0"/>
<ellipse cx="396.04" cy="290.08" rx="4.9" ry="3.6" transform="rotate(-33 396.04 290.08)" fill="url(#gG)" stroke="#101a10" stroke-width="1.1"/>
<ellipse cx="404.12" cy="290.18" rx="4.9" ry="3.6" transform="rotate(-1 404.12 290.18)" fill="url(#gG)" stroke="#101a10" stroke-width="1.1"/>
<circle cx="292.61" cy="311.60" r="2.85" fill="url(#gP)" stroke="#24101a" stroke-width="1.0"/>
<ellipse cx="301.44" cy="312.44" rx="4.9" ry="3.6" transform="rotate(-23 301.44 312.44)" fill="url(#gG)" stroke="#101a10" stroke-width="1.1"/>
<ellipse cx="311.53" cy="312.43" rx="4.9" ry="3.6" transform="rotate(-4 311.53 312.43)" fill="url(#gG)" stroke="#101a10" stroke-width="1.1"/>
<circle cx="320.36" cy="311.60" r="2.85" fill="url(#gP)" stroke="#24101a" stroke-width="1.0"/>
<ellipse cx="327.93" cy="313.37" rx="4.9" ry="3.6" transform="rotate(-13 327.93 313.37)" fill="url(#gG)" stroke="#101a10" stroke-width="1.1"/>
<circle cx="336.00" cy="311.60" r="2.85" fill="url(#gP)" stroke="#24101a" stroke-width="1.0"/>
<circle cx="343.07" cy="311.60" r="2.85" fill="url(#gP)" stroke="#24101a" stroke-width="1.0"/>
<circle cx="350.13" cy="311.60" r="2.85" fill="url(#gP)" stroke="#24101a" stroke-width="1.0"/>
<circle cx="356.94" cy="311.60" r="2.85" fill="url(#gP)" stroke="#24101a" stroke-width="1.0"/>
<circle cx="364.01" cy="311.60" r="2.85" fill="url(#gP)" stroke="#24101a" stroke-width="1.0"/>
<ellipse cx="372.84" cy="312.92" rx="4.9" ry="3.6" transform="rotate(-19 372.84 312.92)" fill="url(#gG)" stroke="#101a10" stroke-width="1.1"/>
<circle cx="380.15" cy="311.60" r="2.85" fill="url(#gP)" stroke="#24101a" stroke-width="1.0"/>
<ellipse cx="388.48" cy="313.29" rx="4.9" ry="3.6" transform="rotate(32 388.48 313.29)" fill="url(#gG)" stroke="#101a10" stroke-width="1.1"/>
<circle cx="396.55" cy="311.60" r="2.85" fill="url(#gP)" stroke="#24101a" stroke-width="1.0"/>
<ellipse cx="406.14" cy="312.79" rx="4.9" ry="3.6" transform="rotate(-6 406.14 312.79)" fill="url(#gG)" stroke="#101a10" stroke-width="1.1"/>
<circle cx="452.22" cy="245.40" r="2.85" fill="url(#gP)" stroke="#24101a" stroke-width="1.0"/>
<circle cx="459.27" cy="245.40" r="2.85" fill="url(#gP)" stroke="#24101a" stroke-width="1.0"/>
<ellipse cx="466.79" cy="245.37" rx="4.9" ry="3.6" transform="rotate(62 466.79 245.37)" fill="url(#gG)" stroke="#101a10" stroke-width="1.1"/>
<circle cx="473.37" cy="245.40" r="2.85" fill="url(#gP)" stroke="#24101a" stroke-width="1.0"/>
<circle cx="479.95" cy="245.40" r="2.85" fill="url(#gP)" stroke="#24101a" stroke-width="1.0"/>
<circle cx="487.00" cy="245.40" r="2.85" fill="url(#gP)" stroke="#24101a" stroke-width="1.0"/>
<ellipse cx="494.52" cy="244.84" rx="4.9" ry="3.6" transform="rotate(12 494.52 244.84)" fill="url(#gG)" stroke="#101a10" stroke-width="1.1"/>
<circle cx="501.57" cy="245.40" r="2.85" fill="url(#gP)" stroke="#24101a" stroke-width="1.0"/>
<circle cx="507.44" cy="245.40" r="2.85" fill="url(#gP)" stroke="#24101a" stroke-width="1.0"/>
<circle cx="513.78" cy="245.40" r="2.85" fill="url(#gP)" stroke="#24101a" stroke-width="1.0"/>
<circle cx="520.36" cy="245.40" r="2.85" fill="url(#gP)" stroke="#24101a" stroke-width="1.0"/>
<ellipse cx="527.41" cy="245.69" rx="4.9" ry="3.6" transform="rotate(-1 527.41 245.69)" fill="url(#gG)" stroke="#101a10" stroke-width="1.1"/>
<ellipse cx="536.58" cy="245.13" rx="4.9" ry="3.6" transform="rotate(-26 536.58 245.13)" fill="url(#gG)" stroke="#101a10" stroke-width="1.1"/>
<circle cx="542.46" cy="245.40" r="2.85" fill="url(#gP)" stroke="#24101a" stroke-width="1.0"/>
<circle cx="548.81" cy="245.40" r="2.85" fill="url(#gP)" stroke="#24101a" stroke-width="1.0"/>
<ellipse cx="556.33" cy="245.42" rx="4.9" ry="3.6" transform="rotate(-14 556.33 245.42)" fill="url(#gG)" stroke="#101a10" stroke-width="1.1"/>
<circle cx="564.80" cy="245.40" r="2.85" fill="url(#gP)" stroke="#24101a" stroke-width="1.0"/>
<circle cx="571.15" cy="245.40" r="2.85" fill="url(#gP)" stroke="#24101a" stroke-width="1.0"/>
<ellipse cx="578.91" cy="245.03" rx="4.9" ry="3.6" transform="rotate(-37 578.91 245.03)" fill="url(#gG)" stroke="#101a10" stroke-width="1.1"/>
<circle cx="586.43" cy="245.40" r="2.85" fill="url(#gP)" stroke="#24101a" stroke-width="1.0"/>
<ellipse cx="594.66" cy="245.69" rx="4.9" ry="3.6" transform="rotate(-33 594.66 245.69)" fill="url(#gG)" stroke="#101a10" stroke-width="1.1"/>
<ellipse cx="605.71" cy="244.80" rx="4.9" ry="3.6" transform="rotate(36 605.71 244.80)" fill="url(#gG)" stroke="#101a10" stroke-width="1.1"/>
<circle cx="613.47" cy="245.40" r="2.85" fill="url(#gP)" stroke="#24101a" stroke-width="1.0"/>
<circle cx="452.22" cy="267.20" r="2.85" fill="url(#gP)" stroke="#24101a" stroke-width="1.0"/>
<ellipse cx="458.80" cy="267.93" rx="4.9" ry="3.6" transform="rotate(-17 458.80 267.93)" fill="url(#gG)" stroke="#101a10" stroke-width="1.1"/>
<ellipse cx="466.79" cy="268.21" rx="4.9" ry="3.6" transform="rotate(72 466.79 268.21)" fill="url(#gG)" stroke="#101a10" stroke-width="1.1"/>
<circle cx="473.84" cy="267.20" r="2.85" fill="url(#gP)" stroke="#24101a" stroke-width="1.0"/>
<circle cx="480.42" cy="267.20" r="2.85" fill="url(#gP)" stroke="#24101a" stroke-width="1.0"/>
<circle cx="487.00" cy="267.20" r="2.85" fill="url(#gP)" stroke="#24101a" stroke-width="1.0"/>
<ellipse cx="494.52" cy="268.60" rx="4.9" ry="3.6" transform="rotate(-17 494.52 268.60)" fill="url(#gG)" stroke="#101a10" stroke-width="1.1"/>
<circle cx="501.57" cy="267.20" r="2.85" fill="url(#gP)" stroke="#24101a" stroke-width="1.0"/>
<circle cx="507.91" cy="267.20" r="2.85" fill="url(#gP)" stroke="#24101a" stroke-width="1.0"/>
<circle cx="514.02" cy="267.20" r="2.85" fill="url(#gP)" stroke="#24101a" stroke-width="1.0"/>
<ellipse cx="521.07" cy="268.06" rx="4.9" ry="3.6" transform="rotate(-31 521.07 268.06)" fill="url(#gG)" stroke="#101a10" stroke-width="1.1"/>
<ellipse cx="528.59" cy="268.06" rx="4.9" ry="3.6" transform="rotate(-21 528.59 268.06)" fill="url(#gG)" stroke="#101a10" stroke-width="1.1"/>
<circle cx="535.88" cy="267.20" r="2.85" fill="url(#gP)" stroke="#24101a" stroke-width="1.0"/>
<circle cx="542.23" cy="267.20" r="2.85" fill="url(#gP)" stroke="#24101a" stroke-width="1.0"/>
<ellipse cx="550.69" cy="268.72" rx="4.9" ry="3.6" transform="rotate(-6 550.69 268.72)" fill="url(#gG)" stroke="#101a10" stroke-width="1.1"/>
<circle cx="558.69" cy="267.20" r="2.85" fill="url(#gP)" stroke="#24101a" stroke-width="1.0"/>
<circle cx="565.27" cy="267.20" r="2.85" fill="url(#gP)" stroke="#24101a" stroke-width="1.0"/>
<circle cx="572.32" cy="267.20" r="2.85" fill="url(#gP)" stroke="#24101a" stroke-width="1.0"/>
<ellipse cx="579.38" cy="268.06" rx="4.9" ry="3.6" transform="rotate(62 579.38 268.06)" fill="url(#gG)" stroke="#101a10" stroke-width="1.1"/>
<circle cx="586.43" cy="267.20" r="2.85" fill="url(#gP)" stroke="#24101a" stroke-width="1.0"/>
<circle cx="592.78" cy="267.20" r="2.85" fill="url(#gP)" stroke="#24101a" stroke-width="1.0"/>
<circle cx="599.36" cy="267.20" r="2.85" fill="url(#gP)" stroke="#24101a" stroke-width="1.0"/>
<ellipse cx="606.42" cy="268.25" rx="4.9" ry="3.6" transform="rotate(-22 606.42 268.25)" fill="url(#gG)" stroke="#101a10" stroke-width="1.1"/>
<circle cx="613.94" cy="267.20" r="2.85" fill="url(#gP)" stroke="#24101a" stroke-width="1.0"/>
<circle cx="452.22" cy="290.00" r="2.85" fill="url(#gP)" stroke="#24101a" stroke-width="1.0"/>
<ellipse cx="460.45" cy="289.44" rx="4.9" ry="3.6" transform="rotate(38 460.45 289.44)" fill="url(#gG)" stroke="#101a10" stroke-width="1.1"/>
<ellipse cx="469.14" cy="290.38" rx="4.9" ry="3.6" transform="rotate(0 469.14 290.38)" fill="url(#gG)" stroke="#101a10" stroke-width="1.1"/>
<circle cx="476.19" cy="290.00" r="2.85" fill="url(#gP)" stroke="#24101a" stroke-width="1.0"/>
<circle cx="482.77" cy="290.00" r="2.85" fill="url(#gP)" stroke="#24101a" stroke-width="1.0"/>
<ellipse cx="492.17" cy="290.05" rx="4.9" ry="3.6" transform="rotate(12 492.17 290.05)" fill="url(#gG)" stroke="#101a10" stroke-width="1.1"/>
<circle cx="500.39" cy="290.00" r="2.85" fill="url(#gP)" stroke="#24101a" stroke-width="1.0"/>
<circle cx="506.97" cy="290.00" r="2.85" fill="url(#gP)" stroke="#24101a" stroke-width="1.0"/>
<circle cx="513.78" cy="290.00" r="2.85" fill="url(#gP)" stroke="#24101a" stroke-width="1.0"/>
<ellipse cx="520.36" cy="289.62" rx="4.9" ry="3.6" transform="rotate(-15 520.36 289.62)" fill="url(#gG)" stroke="#101a10" stroke-width="1.1"/>
<circle cx="527.41" cy="290.00" r="2.85" fill="url(#gP)" stroke="#24101a" stroke-width="1.0"/>
<circle cx="533.29" cy="290.00" r="2.85" fill="url(#gP)" stroke="#24101a" stroke-width="1.0"/>
<circle cx="540.11" cy="290.00" r="2.85" fill="url(#gP)" stroke="#24101a" stroke-width="1.0"/>
<ellipse cx="547.63" cy="290.39" rx="4.9" ry="3.6" transform="rotate(-27 547.63 290.39)" fill="url(#gG)" stroke="#101a10" stroke-width="1.1"/>
<ellipse cx="557.04" cy="289.41" rx="4.9" ry="3.6" transform="rotate(26 557.04 289.41)" fill="url(#gG)" stroke="#101a10" stroke-width="1.1"/>
<circle cx="564.56" cy="290.00" r="2.85" fill="url(#gP)" stroke="#24101a" stroke-width="1.0"/>
<circle cx="570.68" cy="290.00" r="2.85" fill="url(#gP)" stroke="#24101a" stroke-width="1.0"/>
<ellipse cx="578.67" cy="290.07" rx="4.9" ry="3.6" transform="rotate(-34 578.67 290.07)" fill="url(#gG)" stroke="#101a10" stroke-width="1.1"/>
<circle cx="586.43" cy="290.00" r="2.85" fill="url(#gP)" stroke="#24101a" stroke-width="1.0"/>
<circle cx="592.78" cy="290.00" r="2.85" fill="url(#gP)" stroke="#24101a" stroke-width="1.0"/>
<circle cx="599.36" cy="290.00" r="2.85" fill="url(#gP)" stroke="#24101a" stroke-width="1.0"/>
<ellipse cx="606.42" cy="289.45" rx="4.9" ry="3.6" transform="rotate(72 606.42 289.45)" fill="url(#gG)" stroke="#101a10" stroke-width="1.1"/>
<circle cx="613.94" cy="290.00" r="2.85" fill="url(#gP)" stroke="#24101a" stroke-width="1.0"/>
<circle cx="452.93" cy="311.60" r="2.85" fill="url(#gP)" stroke="#24101a" stroke-width="1.0"/>
<ellipse cx="460.92" cy="312.73" rx="4.9" ry="3.6" transform="rotate(-10 460.92 312.73)" fill="url(#gG)" stroke="#101a10" stroke-width="1.1"/>
<ellipse cx="469.85" cy="312.43" rx="4.9" ry="3.6" transform="rotate(-13 469.85 312.43)" fill="url(#gG)" stroke="#101a10" stroke-width="1.1"/>
<circle cx="476.89" cy="311.60" r="2.85" fill="url(#gP)" stroke="#24101a" stroke-width="1.0"/>
<circle cx="482.77" cy="311.60" r="2.85" fill="url(#gP)" stroke="#24101a" stroke-width="1.0"/>
<ellipse cx="488.64" cy="312.48" rx="4.9" ry="3.6" transform="rotate(-13 488.64 312.48)" fill="url(#gG)" stroke="#101a10" stroke-width="1.1"/>
<circle cx="494.52" cy="311.60" r="2.85" fill="url(#gP)" stroke="#24101a" stroke-width="1.0"/>
<ellipse cx="501.57" cy="313.18" rx="4.9" ry="3.6" transform="rotate(-19 501.57 313.18)" fill="url(#gG)" stroke="#101a10" stroke-width="1.1"/>
<circle cx="507.44" cy="311.60" r="2.85" fill="url(#gP)" stroke="#24101a" stroke-width="1.0"/>
<ellipse cx="512.14" cy="312.99" rx="4.9" ry="3.6" transform="rotate(-27 512.14 312.99)" fill="url(#gG)" stroke="#101a10" stroke-width="1.1"/>
<ellipse cx="518.01" cy="313.03" rx="4.9" ry="3.6" transform="rotate(-15 518.01 313.03)" fill="url(#gG)" stroke="#101a10" stroke-width="1.1"/>
<circle cx="525.06" cy="311.60" r="2.85" fill="url(#gP)" stroke="#24101a" stroke-width="1.0"/>
<ellipse cx="532.11" cy="312.56" rx="4.9" ry="3.6" transform="rotate(27 532.11 312.56)" fill="url(#gG)" stroke="#101a10" stroke-width="1.1"/>
<ellipse cx="540.58" cy="313.00" rx="4.9" ry="3.6" transform="rotate(22 540.58 313.00)" fill="url(#gG)" stroke="#101a10" stroke-width="1.1"/>
<circle cx="547.63" cy="311.60" r="2.85" fill="url(#gP)" stroke="#24101a" stroke-width="1.0"/>
<circle cx="553.51" cy="311.60" r="2.85" fill="url(#gP)" stroke="#24101a" stroke-width="1.0"/>
<circle cx="559.39" cy="311.60" r="2.85" fill="url(#gP)" stroke="#24101a" stroke-width="1.0"/>
<circle cx="565.27" cy="311.60" r="2.85" fill="url(#gP)" stroke="#24101a" stroke-width="1.0"/>
<ellipse cx="573.03" cy="313.22" rx="4.9" ry="3.6" transform="rotate(-27 573.03 313.22)" fill="url(#gG)" stroke="#101a10" stroke-width="1.1"/>
<circle cx="580.55" cy="311.60" r="2.85" fill="url(#gP)" stroke="#24101a" stroke-width="1.0"/>
<circle cx="586.43" cy="311.60" r="2.85" fill="url(#gP)" stroke="#24101a" stroke-width="1.0"/>
<circle cx="593.48" cy="311.60" r="2.85" fill="url(#gP)" stroke="#24101a" stroke-width="1.0"/>
<ellipse cx="600.54" cy="313.31" rx="4.9" ry="3.6" transform="rotate(0 600.54 313.31)" fill="url(#gG)" stroke="#101a10" stroke-width="1.1"/>
<circle cx="607.59" cy="311.60" r="2.85" fill="url(#gP)" stroke="#24101a" stroke-width="1.0"/>
<circle cx="613.94" cy="311.60" r="2.85" fill="url(#gP)" stroke="#24101a" stroke-width="1.0"/>
<circle cx="56.10" cy="279.30" r="6.2" fill="url(#gS)" stroke="#0c0c34" stroke-width="0.95"/>
<circle cx="68.60" cy="279.30" r="6.2" fill="url(#gS)" stroke="#0c0c34" stroke-width="0.95"/>
<circle cx="81.20" cy="279.30" r="6.2" fill="url(#gS)" stroke="#0c0c34" stroke-width="0.95"/>
<circle cx="93.70" cy="279.30" r="6.2" fill="url(#gS)" stroke="#0c0c34" stroke-width="0.95"/>
<circle cx="105.80" cy="279.30" r="6.2" fill="url(#gS)" stroke="#0c0c34" stroke-width="0.95"/>
<circle cx="118.20" cy="279.30" r="6.2" fill="url(#gS)" stroke="#0c0c34" stroke-width="0.95"/>
<circle cx="171.60" cy="279.00" r="6.0" fill="url(#gS)" stroke="#0c0c34" stroke-width="0.95"/>
<circle cx="186.30" cy="279.00" r="6.0" fill="url(#gS)" stroke="#0c0c34" stroke-width="0.95"/>
<circle cx="201.10" cy="279.00" r="6.0" fill="url(#gS)" stroke="#0c0c34" stroke-width="0.95"/>
<circle cx="215.60" cy="279.00" r="6.0" fill="url(#gS)" stroke="#0c0c34" stroke-width="0.95"/>
<circle cx="230.40" cy="279.00" r="6.0" fill="url(#gS)" stroke="#0c0c34" stroke-width="0.95"/>
<circle cx="244.50" cy="279.00" r="6.0" fill="url(#gS)" stroke="#0c0c34" stroke-width="0.95"/>
<circle cx="295.90" cy="279.30" r="6.2" fill="url(#gS)" stroke="#0c0c34" stroke-width="0.95"/>
<circle cx="310.80" cy="279.30" r="6.2" fill="url(#gS)" stroke="#0c0c34" stroke-width="0.95"/>
<circle cx="325.40" cy="279.30" r="6.2" fill="url(#gS)" stroke="#0c0c34" stroke-width="0.95"/>
<circle cx="375.10" cy="279.30" r="6.2" fill="url(#gS)" stroke="#0c0c34" stroke-width="0.95"/>
<circle cx="390.00" cy="279.30" r="6.2" fill="url(#gS)" stroke="#0c0c34" stroke-width="0.95"/>
<circle cx="404.40" cy="279.30" r="6.2" fill="url(#gS)" stroke="#0c0c34" stroke-width="0.95"/>
<circle cx="461.90" cy="279.30" r="6.1" fill="url(#gS)" stroke="#0c0c34" stroke-width="0.95"/>
<circle cx="491.60" cy="279.30" r="6.1" fill="url(#gS)" stroke="#0c0c34" stroke-width="0.95"/>
<circle cx="521.20" cy="279.30" r="6.1" fill="url(#gS)" stroke="#0c0c34" stroke-width="0.95"/>
<circle cx="550.50" cy="279.30" r="6.1" fill="url(#gS)" stroke="#0c0c34" stroke-width="0.95"/>
<circle cx="579.90" cy="279.30" r="6.1" fill="url(#gS)" stroke="#0c0c34" stroke-width="0.95"/>
<circle cx="609.00" cy="279.30" r="6.1" fill="url(#gS)" stroke="#0c0c34" stroke-width="0.95"/>
<text x="89.6" y="343.4" font-family="Liberation Serif, serif" font-size="17" text-anchor="middle" fill="#111">(i)</text>
<text x="211.3" y="343.4" font-family="Liberation Serif, serif" font-size="17" text-anchor="middle" fill="#111">(ii-a)</text>
<text x="350.9" y="343.4" font-family="Liberation Serif, serif" font-size="17" text-anchor="middle" fill="#111">(ii-b)</text>
<text x="535.6" y="343.4" font-family="Liberation Serif, serif" font-size="17" text-anchor="middle" fill="#111">(iii)</text>
</svg>
</body></html>
